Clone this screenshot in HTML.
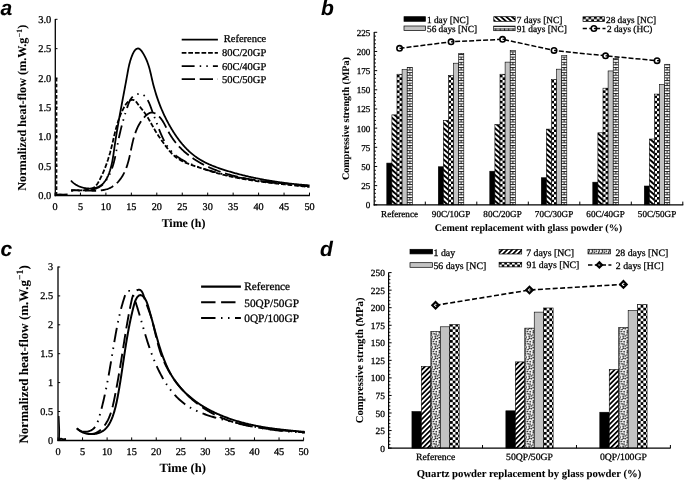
<!DOCTYPE html>
<html><head><meta charset="utf-8"><title>Figure</title>
<style>
html,body{margin:0;padding:0;background:#fff;width:685px;height:482px;overflow:hidden;}
svg{display:block;filter:blur(0.45px);}
text{text-rendering:geometricPrecision;stroke:#000;stroke-width:0.28px;}
text[font-weight="bold"]{stroke-width:0.06px;}
</style></head>
<body>
<svg width="685" height="482" viewBox="0 0 685 482">
<rect width="685" height="482" fill="#fff"/>

<defs>
 <pattern id="hatchB" patternUnits="userSpaceOnUse" width="4.2" height="4.2" patternTransform="rotate(40)">
  <rect width="4.2" height="4.2" fill="#fff"/><rect width="4.2" height="2.2" fill="#000"/>
 </pattern>
 <pattern id="hatchD" patternUnits="userSpaceOnUse" width="3.6" height="3.6" patternTransform="rotate(-50)">
  <rect width="3.6" height="3.6" fill="#fff"/><rect width="3.6" height="1.7" fill="#000"/>
 </pattern>
 <pattern id="checkB" patternUnits="userSpaceOnUse" width="5.3" height="5.3">
  <rect width="5.3" height="5.3" fill="#fff"/><rect width="2.65" height="2.65" fill="#000"/><rect x="2.65" y="2.65" width="2.65" height="2.65" fill="#000"/>
 </pattern>
 <pattern id="checkD" patternUnits="userSpaceOnUse" width="5.4" height="5.4">
  <rect width="5.4" height="5.4" fill="#fff"/><rect width="2.7" height="2.7" fill="#000"/><rect x="2.7" y="2.7" width="2.7" height="2.7" fill="#000"/>
 </pattern>
 <pattern id="brickB" patternUnits="userSpaceOnUse" width="5.6" height="5.2">
  <rect width="5.6" height="5.2" fill="#fff"/>
  <rect y="0" width="5.6" height="0.9" fill="#222"/>
  <rect y="2.6" width="5.6" height="0.9" fill="#222"/>
  <rect x="2.4" y="2.6" width="0.9" height="2.6" fill="#222"/>
 </pattern>
 <pattern id="dotsD" patternUnits="userSpaceOnUse" width="6" height="6">
  <rect width="6" height="6" fill="#fff"/>
  <circle cx="1" cy="1" r="0.9" fill="#111"/>
  <circle cx="4" cy="2" r="0.9" fill="#111"/>
  <circle cx="2" cy="4" r="0.9" fill="#111"/>
  <circle cx="5" cy="5" r="0.8" fill="#111"/>
 </pattern>
 <linearGradient id="grayG" x1="0" x2="1" y1="0" y2="0">
  <stop offset="0" stop-color="#a9a9a9"/><stop offset="0.5" stop-color="#d2d2d2"/><stop offset="1" stop-color="#a9a9a9"/>
 </linearGradient>
</defs>

<text x="0.5" y="15.3" font-family="'Liberation Sans', sans-serif" font-size="21" font-weight="bold" font-style="italic" text-anchor="start" >a</text>
<text x="321" y="15.3" font-family="'Liberation Sans', sans-serif" font-size="21" font-weight="bold" font-style="italic" text-anchor="start" >b</text>
<text x="0.5" y="256" font-family="'Liberation Sans', sans-serif" font-size="21" font-weight="bold" font-style="italic" text-anchor="start" >c</text>
<text x="320" y="255.9" font-family="'Liberation Sans', sans-serif" font-size="21" font-weight="bold" font-style="italic" text-anchor="start" >d</text>
<line x1="55.3" y1="19" x2="55.3" y2="196.3" stroke="#000" stroke-width="1.3" />
<line x1="54.7" y1="195.6" x2="309.8" y2="195.6" stroke="#000" stroke-width="1.5" />
<line x1="55.3" y1="195.4" x2="57.5" y2="195.4" stroke="#000" stroke-width="1" />
<text x="51.3" y="198.9" font-family="'Liberation Serif', serif" font-size="10.5" font-weight="normal" font-style="normal" text-anchor="end" >0.0</text>
<line x1="55.3" y1="166.05" x2="57.5" y2="166.05" stroke="#000" stroke-width="1" />
<text x="51.3" y="169.55" font-family="'Liberation Serif', serif" font-size="10.5" font-weight="normal" font-style="normal" text-anchor="end" >0.5</text>
<line x1="55.3" y1="136.7" x2="57.5" y2="136.7" stroke="#000" stroke-width="1" />
<text x="51.3" y="140.2" font-family="'Liberation Serif', serif" font-size="10.5" font-weight="normal" font-style="normal" text-anchor="end" >1.0</text>
<line x1="55.3" y1="107.35" x2="57.5" y2="107.35" stroke="#000" stroke-width="1" />
<text x="51.3" y="110.85" font-family="'Liberation Serif', serif" font-size="10.5" font-weight="normal" font-style="normal" text-anchor="end" >1.5</text>
<line x1="55.3" y1="78" x2="57.5" y2="78" stroke="#000" stroke-width="1" />
<text x="51.3" y="81.5" font-family="'Liberation Serif', serif" font-size="10.5" font-weight="normal" font-style="normal" text-anchor="end" >2.0</text>
<line x1="55.3" y1="48.65" x2="57.5" y2="48.65" stroke="#000" stroke-width="1" />
<text x="51.3" y="52.15" font-family="'Liberation Serif', serif" font-size="10.5" font-weight="normal" font-style="normal" text-anchor="end" >2.5</text>
<line x1="55.3" y1="19.3" x2="57.5" y2="19.3" stroke="#000" stroke-width="1" />
<text x="51.3" y="22.8" font-family="'Liberation Serif', serif" font-size="10.5" font-weight="normal" font-style="normal" text-anchor="end" >3.0</text>
<line x1="55" y1="195.6" x2="55" y2="192.6" stroke="#000" stroke-width="1" />
<text x="55" y="209.6" font-family="'Liberation Serif', serif" font-size="10.2" font-weight="normal" font-style="normal" text-anchor="middle" >0</text>
<line x1="80.45" y1="195.6" x2="80.45" y2="192.6" stroke="#000" stroke-width="1" />
<text x="80.45" y="209.6" font-family="'Liberation Serif', serif" font-size="10.2" font-weight="normal" font-style="normal" text-anchor="middle" >5</text>
<line x1="105.9" y1="195.6" x2="105.9" y2="192.6" stroke="#000" stroke-width="1" />
<text x="105.9" y="209.6" font-family="'Liberation Serif', serif" font-size="10.2" font-weight="normal" font-style="normal" text-anchor="middle" >10</text>
<line x1="131.35" y1="195.6" x2="131.35" y2="192.6" stroke="#000" stroke-width="1" />
<text x="131.35" y="209.6" font-family="'Liberation Serif', serif" font-size="10.2" font-weight="normal" font-style="normal" text-anchor="middle" >15</text>
<line x1="156.8" y1="195.6" x2="156.8" y2="192.6" stroke="#000" stroke-width="1" />
<text x="156.8" y="209.6" font-family="'Liberation Serif', serif" font-size="10.2" font-weight="normal" font-style="normal" text-anchor="middle" >20</text>
<line x1="182.25" y1="195.6" x2="182.25" y2="192.6" stroke="#000" stroke-width="1" />
<text x="182.25" y="209.6" font-family="'Liberation Serif', serif" font-size="10.2" font-weight="normal" font-style="normal" text-anchor="middle" >25</text>
<line x1="207.7" y1="195.6" x2="207.7" y2="192.6" stroke="#000" stroke-width="1" />
<text x="207.7" y="209.6" font-family="'Liberation Serif', serif" font-size="10.2" font-weight="normal" font-style="normal" text-anchor="middle" >30</text>
<line x1="233.15" y1="195.6" x2="233.15" y2="192.6" stroke="#000" stroke-width="1" />
<text x="233.15" y="209.6" font-family="'Liberation Serif', serif" font-size="10.2" font-weight="normal" font-style="normal" text-anchor="middle" >35</text>
<line x1="258.6" y1="195.6" x2="258.6" y2="192.6" stroke="#000" stroke-width="1" />
<text x="258.6" y="209.6" font-family="'Liberation Serif', serif" font-size="10.2" font-weight="normal" font-style="normal" text-anchor="middle" >40</text>
<line x1="284.05" y1="195.6" x2="284.05" y2="192.6" stroke="#000" stroke-width="1" />
<text x="284.05" y="209.6" font-family="'Liberation Serif', serif" font-size="10.2" font-weight="normal" font-style="normal" text-anchor="middle" >45</text>
<line x1="309.5" y1="195.6" x2="309.5" y2="192.6" stroke="#000" stroke-width="1" />
<text x="309.5" y="209.6" font-family="'Liberation Serif', serif" font-size="10.2" font-weight="normal" font-style="normal" text-anchor="middle" >50</text>
<text x="183.5" y="227.2" font-family="'Liberation Serif', serif" font-size="11.9" font-weight="bold" font-style="normal" text-anchor="middle" >Time (h)</text>
<text transform="translate(26.4,107.75) rotate(-90)" font-family="'Liberation Serif', serif" font-size="12.2" font-weight="bold" text-anchor="middle">Normalized heat-flow (m.W.g<tspan font-size="8.2" dy="-4.7">&#8722;1</tspan><tspan dy="4.7">)</tspan></text>
<line x1="56.7" y1="78" x2="56.7" y2="195" stroke="#000" stroke-width="1.3" stroke-dasharray="3.6,2.1"/>
<path d="M56,195 L60,194.4 L63,194.8 L67.6,194.5" fill="none" stroke="#000" stroke-width="1.9" stroke-linejoin="round" />
<path d="M181.7,39.7 L217.9,39.7" fill="none" stroke="#000" stroke-width="1.8" stroke-linejoin="round" />
<text x="266.3" y="42" font-family="'Liberation Serif', serif" font-size="10.5" font-weight="normal" font-style="normal" text-anchor="end" >Reference</text>
<path d="M181.7,52.8 L217.9,52.8" fill="none" stroke="#000" stroke-width="1.8" stroke-dasharray="4.7,1.9" stroke-linejoin="round" />
<text x="266.3" y="56.3" font-family="'Liberation Serif', serif" font-size="10.5" font-weight="normal" font-style="normal" text-anchor="end" >80C/20GP</text>
<path d="M181.7,66.1 L217.9,66.1" fill="none" stroke="#000" stroke-width="1.8" stroke-dasharray="12.9,5.1,1.5,5.1,1.5,5.1" stroke-linejoin="round" />
<text x="266.3" y="69.7" font-family="'Liberation Serif', serif" font-size="10.5" font-weight="normal" font-style="normal" text-anchor="end" >60C/40GP</text>
<path d="M181.7,79.1 L217.9,79.1" fill="none" stroke="#000" stroke-width="1.8" stroke-dasharray="13.3,4.7" stroke-linejoin="round" />
<text x="266.3" y="83.2" font-family="'Liberation Serif', serif" font-size="10.5" font-weight="normal" font-style="normal" text-anchor="end" >50C/50GP</text>
<path d="M71.02,180.48 L71.48,181.04 L71.97,181.59 L72.49,182.11 L73.05,182.62 L73.63,183.11 L74.24,183.58 L74.87,184.03 L75.52,184.47 L76.2,184.88 L76.9,185.27 L77.61,185.65 L78.35,186 L79.1,186.33 L79.87,186.64 L80.65,186.93 L81.44,187.2 L82.24,187.44 L83.05,187.66 L83.87,187.85 L84.7,188.03 L85.53,188.17 L86.36,188.3 L87.19,188.39 L88.03,188.46 L88.87,188.51 L89.7,188.53 L90.53,188.52 L91.35,188.48 L92.17,188.42 L92.98,188.33 L93.77,188.21 L94.56,188.06 L95.34,187.88 L96.1,187.67 L96.85,187.43 L97.58,187.16 L98.29,186.86 L98.98,186.53 L99.65,186.16 L100.3,185.77 L100.93,185.34 L101.53,184.88 L102.11,184.39 L102.67,183.88 L103.21,183.33 L103.73,182.77 L104.22,182.17 L104.7,181.56 L105.16,180.93 L105.61,180.27 L106.03,179.6 L106.44,178.92 L106.83,178.21 L107.2,177.5 L107.56,176.77 L107.91,176.03 L108.24,175.28 L108.55,174.52 L108.86,173.76 L109.15,172.99 L109.42,172.22 L109.69,171.44 L109.95,170.67 L110.19,169.89 L110.42,169.11 L110.65,168.34 L110.86,167.56 L111.07,166.78 L111.27,166 L111.46,165.22 L111.64,164.44 L111.81,163.66 L111.98,162.88 L112.14,162.1 L112.3,161.32 L112.44,160.54 L112.59,159.76 L112.73,158.98 L112.86,158.2 L112.99,157.42 L113.11,156.63 L113.24,155.85 L113.36,155.07 L113.47,154.28 L113.59,153.5 L113.7,152.71 L113.81,151.93 L113.92,151.14 L114.03,150.36 L114.14,149.57 L114.25,148.79 L114.36,148 L114.47,147.21 L114.58,146.43 L114.7,145.64 L114.81,144.85 L114.93,144.06 L115.04,143.27 L115.16,142.48 L115.28,141.7 L115.4,140.91 L115.52,140.12 L115.64,139.33 L115.77,138.54 L115.89,137.75 L116.02,136.96 L116.14,136.16 L116.27,135.37 L116.4,134.58 L116.53,133.79 L116.65,133 L116.79,132.21 L116.92,131.42 L117.05,130.63 L117.18,129.83 L117.31,129.04 L117.45,128.25 L117.58,127.46 L117.72,126.67 L117.86,125.87 L117.99,125.08 L118.13,124.29 L118.27,123.5 L118.41,122.7 L118.55,121.91 L118.69,121.12 L118.83,120.33 L118.97,119.54 L119.11,118.74 L119.25,117.95 L119.4,117.16 L119.54,116.37 L119.68,115.58 L119.83,114.78 L119.97,113.99 L120.11,113.2 L120.26,112.41 L120.4,111.62 L120.55,110.83 L120.7,110.04 L120.84,109.25 L120.99,108.46 L121.14,107.67 L121.28,106.88 L121.43,106.09 L121.58,105.3 L121.72,104.51 L121.87,103.72 L122.02,102.93 L122.17,102.14 L122.31,101.36 L122.46,100.57 L122.61,99.78 L122.76,99 L122.9,98.21 L123.05,97.42 L123.2,96.64 L123.35,95.85 L123.5,95.07 L123.64,94.28 L123.79,93.5 L123.94,92.71 L124.08,91.93 L124.23,91.15 L124.38,90.37 L124.52,89.59 L124.67,88.8 L124.82,88.02 L124.96,87.24 L125.11,86.46 L125.25,85.68 L125.4,84.91 L125.54,84.13 L125.69,83.35 L125.83,82.57 L125.97,81.8 L126.11,81.02 L126.26,80.25 L126.4,79.47 L126.54,78.7 L126.68,77.93 L126.82,77.15 L126.96,76.38 L127.1,75.61 L127.24,74.84 L127.38,74.07 L127.51,73.3 L127.65,72.53 L127.79,71.77 L127.93,71 L128.07,70.23 L128.22,69.46 L128.37,68.68 L128.53,67.91 L128.69,67.13 L128.85,66.36 L129.03,65.58 L129.21,64.79 L129.4,64 L129.61,63.21 L129.82,62.42 L130.04,61.62 L130.27,60.81 L130.52,60 L130.78,59.19 L131.06,58.37 L131.35,57.54 L131.65,56.7 L131.97,55.86 L132.31,55.02 L132.67,54.19 L133.05,53.37 L133.44,52.58 L133.86,51.83 L134.3,51.13 L134.76,50.49 L135.25,49.92 L135.76,49.43 L136.28,49.03 L136.82,48.73 L137.36,48.54 L137.9,48.46 L138.43,48.51 L138.96,48.67 L139.48,48.94 L139.99,49.3 L140.49,49.75 L140.98,50.27 L141.47,50.85 L141.94,51.49 L142.4,52.18 L142.85,52.9 L143.29,53.64 L143.72,54.41 L144.14,55.17 L144.54,55.94 L144.93,56.69 L145.3,57.45 L145.67,58.2 L146.02,58.95 L146.36,59.7 L146.68,60.45 L147,61.2 L147.3,61.95 L147.59,62.7 L147.87,63.46 L148.13,64.22 L148.39,64.98 L148.64,65.74 L148.88,66.51 L149.11,67.28 L149.33,68.05 L149.54,68.83 L149.75,69.61 L149.95,70.38 L150.15,71.16 L150.34,71.94 L150.52,72.73 L150.71,73.51 L150.89,74.29 L151.07,75.07 L151.25,75.86 L151.42,76.64 L151.6,77.42 L151.78,78.21 L151.95,78.99 L152.13,79.77 L152.31,80.55 L152.5,81.33 L152.68,82.11 L152.87,82.88 L153.07,83.66 L153.26,84.43 L153.46,85.21 L153.67,85.98 L153.87,86.75 L154.08,87.52 L154.29,88.28 L154.51,89.05 L154.73,89.81 L154.95,90.58 L155.17,91.34 L155.4,92.1 L155.63,92.86 L155.87,93.62 L156.11,94.38 L156.35,95.13 L156.59,95.89 L156.84,96.64 L157.09,97.39 L157.35,98.14 L157.61,98.89 L157.87,99.64 L158.13,100.39 L158.4,101.13 L158.67,101.88 L158.95,102.62 L159.23,103.36 L159.51,104.1 L159.79,104.84 L160.08,105.58 L160.38,106.32 L160.67,107.05 L160.97,107.79 L161.28,108.52 L161.58,109.25 L161.89,109.98 L162.21,110.71 L162.53,111.44 L162.85,112.16 L163.17,112.89 L163.5,113.61 L163.84,114.33 L164.17,115.05 L164.51,115.77 L164.86,116.49 L165.21,117.21 L165.56,117.92 L165.91,118.64 L166.27,119.35 L166.64,120.06 L167,120.77 L167.37,121.48 L167.75,122.19 L168.13,122.9 L168.51,123.6 L168.9,124.31 L169.29,125.01 L169.68,125.71 L170.08,126.41 L170.49,127.11 L170.89,127.81 L171.3,128.5 L171.72,129.2 L172.14,129.89 L172.56,130.58 L172.99,131.27 L173.42,131.95 L173.86,132.63 L174.3,133.31 L174.74,133.99 L175.19,134.67 L175.64,135.34 L176.1,136.01 L176.56,136.67 L177.03,137.33 L177.5,137.99 L177.98,138.64 L178.46,139.3 L178.94,139.94 L179.43,140.58 L179.93,141.22 L180.43,141.86 L180.93,142.49 L181.44,143.11 L181.96,143.73 L182.47,144.35 L183,144.96 L183.53,145.56 L184.06,146.16 L184.6,146.75 L185.14,147.34 L185.69,147.93 L186.24,148.5 L186.8,149.07 L187.36,149.64 L187.93,150.2 L188.51,150.75 L189.08,151.29 L189.67,151.83 L190.26,152.37 L190.85,152.89 L191.45,153.41 L192.06,153.92 L192.67,154.42 L193.29,154.92 L193.91,155.41 L194.54,155.89 L195.17,156.36 L195.81,156.82 L196.45,157.28 L197.1,157.73 L197.76,158.17 L198.42,158.6 L199.08,159.02 L199.76,159.44 L200.43,159.85 L201.11,160.25 L201.8,160.64 L202.49,161.03 L203.18,161.41 L203.88,161.78 L204.59,162.15 L205.29,162.51 L206.01,162.86 L206.72,163.21 L207.44,163.55 L208.16,163.89 L208.89,164.22 L209.62,164.54 L210.35,164.86 L211.08,165.17 L211.82,165.48 L212.56,165.78 L213.31,166.08 L214.05,166.37 L214.8,166.66 L215.55,166.95 L216.3,167.23 L217.06,167.5 L217.82,167.78 L218.57,168.04 L219.33,168.31 L220.09,168.57 L220.86,168.83 L221.62,169.08 L222.39,169.34 L223.15,169.59 L223.92,169.83 L224.68,170.08 L225.45,170.32 L226.22,170.56 L226.99,170.8 L227.76,171.03 L228.52,171.26 L229.29,171.5 L230.06,171.72 L230.83,171.95 L231.6,172.17 L232.38,172.4 L233.15,172.62 L233.92,172.83 L234.69,173.05 L235.46,173.26 L236.24,173.47 L237.01,173.68 L237.78,173.89 L238.56,174.1 L239.33,174.3 L240.11,174.5 L240.88,174.7 L241.66,174.9 L242.43,175.09 L243.21,175.28 L243.99,175.47 L244.76,175.66 L245.54,175.85 L246.32,176.04 L247.1,176.22 L247.87,176.4 L248.65,176.58 L249.43,176.76 L250.21,176.93 L250.99,177.11 L251.77,177.28 L252.55,177.45 L253.33,177.62 L254.11,177.78 L254.89,177.95 L255.68,178.11 L256.46,178.27 L257.24,178.43 L258.02,178.58 L258.81,178.74 L259.59,178.89 L260.37,179.04 L261.16,179.19 L261.94,179.34 L262.73,179.49 L263.51,179.63 L264.3,179.78 L265.08,179.92 L265.87,180.06 L266.65,180.2 L267.44,180.33 L268.23,180.47 L269.01,180.6 L269.8,180.73 L270.59,180.86 L271.38,180.99 L272.17,181.11 L272.95,181.24 L273.74,181.36 L274.53,181.48 L275.32,181.61 L276.11,181.72 L276.9,181.84 L277.69,181.96 L278.48,182.07 L279.27,182.18 L280.06,182.29 L280.86,182.4 L281.65,182.51 L282.44,182.62 L283.23,182.72 L284.02,182.83 L284.82,182.93 L285.61,183.03 L286.4,183.13 L287.2,183.23 L287.99,183.33 L288.78,183.42 L289.58,183.52 L290.37,183.61 L291.17,183.7 L291.96,183.79 L292.76,183.88 L293.55,183.97 L294.35,184.05 L295.15,184.14 L295.94,184.22 L296.74,184.3 L297.53,184.39 L298.33,184.47 L299.13,184.54 L299.93,184.62 L300.72,184.7 L301.52,184.77 L302.32,184.85 L303.12,184.92 L303.92,184.99 L304.71,185.06 L305.51,185.13 L306.31,185.2 L307.11,185.27 L307.91,185.33 L308.71,185.4 L309.51,185.46" fill="none" stroke="#000" stroke-width="1.8" stroke-linejoin="round" />
<path d="M71.04,190.3 L71.71,190.26 L72.41,190.23 L73.14,190.21 L73.89,190.2 L74.66,190.2 L75.45,190.21 L76.26,190.22 L77.07,190.24 L77.91,190.25 L78.75,190.27 L79.6,190.28 L80.45,190.28 L81.31,190.28 L82.17,190.26 L83.03,190.24 L83.89,190.2 L84.74,190.14 L85.59,190.07 L86.42,189.97 L87.25,189.86 L88.06,189.72 L88.86,189.55 L89.64,189.36 L90.4,189.13 L91.14,188.88 L91.86,188.58 L92.55,188.26 L93.21,187.89 L93.85,187.48 L94.45,187.03 L95.02,186.54 L95.56,186.01 L96.08,185.45 L96.57,184.86 L97.04,184.24 L97.49,183.6 L97.92,182.93 L98.33,182.25 L98.73,181.55 L99.12,180.84 L99.51,180.12 L99.88,179.4 L100.25,178.68 L100.61,177.95 L100.97,177.22 L101.32,176.49 L101.67,175.76 L102.01,175.03 L102.35,174.3 L102.68,173.56 L103.01,172.82 L103.33,172.08 L103.65,171.34 L103.96,170.6 L104.27,169.85 L104.57,169.11 L104.87,168.36 L105.16,167.61 L105.45,166.86 L105.73,166.11 L106.01,165.36 L106.29,164.61 L106.56,163.85 L106.83,163.09 L107.09,162.34 L107.35,161.58 L107.6,160.82 L107.86,160.06 L108.1,159.3 L108.34,158.54 L108.58,157.77 L108.82,157.01 L109.05,156.24 L109.27,155.48 L109.5,154.71 L109.72,153.94 L109.93,153.18 L110.15,152.41 L110.35,151.64 L110.56,150.87 L110.76,150.1 L110.96,149.33 L111.16,148.56 L111.35,147.79 L111.54,147.01 L111.73,146.24 L111.92,145.47 L112.1,144.69 L112.28,143.92 L112.47,143.15 L112.65,142.37 L112.83,141.6 L113.01,140.83 L113.19,140.05 L113.36,139.28 L113.54,138.51 L113.72,137.73 L113.91,136.96 L114.09,136.18 L114.27,135.41 L114.45,134.64 L114.64,133.87 L114.83,133.09 L115.02,132.32 L115.21,131.55 L115.4,130.78 L115.6,130.01 L115.8,129.24 L116.01,128.47 L116.21,127.7 L116.43,126.93 L116.64,126.16 L116.86,125.4 L117.08,124.63 L117.31,123.87 L117.55,123.1 L117.79,122.34 L118.03,121.57 L118.28,120.81 L118.54,120.05 L118.8,119.29 L119.07,118.53 L119.35,117.78 L119.63,117.02 L119.92,116.26 L120.21,115.51 L120.52,114.76 L120.83,114.01 L121.15,113.26 L121.48,112.51 L121.82,111.76 L122.17,111.02 L122.52,110.27 L122.89,109.53 L123.26,108.79 L123.65,108.05 L124.04,107.31 L124.45,106.58 L124.87,105.86 L125.3,105.15 L125.75,104.47 L126.22,103.81 L126.72,103.19 L127.23,102.6 L127.77,102.05 L128.34,101.55 L128.93,101.1 L129.55,100.71 L130.21,100.39 L130.9,100.13 L131.63,99.95 L132.36,99.85 L133.09,99.87 L133.79,100.01 L134.43,100.28 L135.03,100.68 L135.58,101.17 L136.11,101.74 L136.61,102.37 L137.1,103.03 L137.59,103.71 L138.08,104.37 L138.58,105.03 L139.08,105.68 L139.58,106.33 L140.09,106.97 L140.59,107.61 L141.1,108.24 L141.6,108.87 L142.1,109.5 L142.6,110.13 L143.09,110.76 L143.58,111.4 L144.06,112.03 L144.54,112.67 L145,113.31 L145.46,113.96 L145.91,114.61 L146.35,115.27 L146.78,115.94 L147.2,116.61 L147.61,117.29 L148.02,117.97 L148.43,118.65 L148.83,119.34 L149.22,120.03 L149.62,120.72 L150.01,121.42 L150.4,122.11 L150.79,122.81 L151.18,123.51 L151.57,124.21 L151.96,124.91 L152.35,125.61 L152.74,126.31 L153.14,127.01 L153.53,127.71 L153.93,128.41 L154.33,129.1 L154.73,129.79 L155.13,130.48 L155.54,131.17 L155.95,131.85 L156.37,132.53 L156.79,133.21 L157.22,133.88 L157.65,134.55 L158.08,135.22 L158.52,135.88 L158.96,136.54 L159.41,137.2 L159.86,137.86 L160.31,138.52 L160.76,139.17 L161.22,139.83 L161.68,140.48 L162.14,141.13 L162.61,141.78 L163.08,142.43 L163.54,143.08 L164.02,143.74 L164.49,144.39 L164.96,145.04 L165.44,145.69 L165.92,146.35 L166.4,147 L166.88,147.64 L167.37,148.29 L167.87,148.92 L168.37,149.56 L168.87,150.19 L169.38,150.81 L169.9,151.42 L170.43,152.02 L170.96,152.62 L171.5,153.2 L172.06,153.78 L172.62,154.34 L173.19,154.89 L173.77,155.42 L174.36,155.94 L174.96,156.45 L175.57,156.94 L176.2,157.42 L176.83,157.88 L177.48,158.33 L178.14,158.76 L178.8,159.18 L179.47,159.59 L180.16,159.99 L180.85,160.37 L181.55,160.75 L182.25,161.11 L182.96,161.47 L183.68,161.81 L184.41,162.15 L185.14,162.48 L185.88,162.8 L186.62,163.11 L187.36,163.41 L188.11,163.71 L188.87,164 L189.63,164.29 L190.39,164.57 L191.15,164.85 L191.91,165.12 L192.68,165.39 L193.45,165.65 L194.22,165.91 L194.98,166.17 L195.75,166.43 L196.52,166.69 L197.29,166.95 L198.06,167.2 L198.83,167.46 L199.59,167.71 L200.36,167.96 L201.12,168.21 L201.89,168.46 L202.65,168.71 L203.42,168.96 L204.18,169.2 L204.95,169.44 L205.71,169.69 L206.48,169.93 L207.24,170.17 L208,170.41 L208.77,170.64 L209.53,170.88 L210.29,171.11 L211.06,171.34 L211.82,171.57 L212.58,171.8 L213.35,172.02 L214.11,172.25 L214.88,172.47 L215.64,172.69 L216.41,172.91 L217.17,173.12 L217.94,173.33 L218.71,173.55 L219.47,173.75 L220.24,173.96 L221.01,174.17 L221.78,174.37 L222.55,174.57 L223.32,174.76 L224.09,174.96 L224.86,175.15 L225.63,175.34 L226.4,175.53 L227.18,175.71 L227.95,175.9 L228.72,176.08 L229.5,176.25 L230.28,176.43 L231.05,176.6 L231.83,176.77 L232.61,176.94 L233.39,177.1 L234.17,177.27 L234.95,177.43 L235.73,177.59 L236.51,177.74 L237.29,177.9 L238.08,178.05 L238.86,178.2 L239.65,178.35 L240.43,178.49 L241.22,178.64 L242,178.78 L242.79,178.92 L243.57,179.06 L244.36,179.2 L245.15,179.33 L245.94,179.47 L246.73,179.6 L247.52,179.73 L248.3,179.85 L249.09,179.98 L249.89,180.1 L250.68,180.23 L251.47,180.35 L252.26,180.47 L253.05,180.59 L253.84,180.7 L254.64,180.82 L255.43,180.93 L256.22,181.05 L257.02,181.16 L257.81,181.27 L258.6,181.38 L259.4,181.48 L260.19,181.59 L260.99,181.69 L261.78,181.8 L262.58,181.9 L263.38,182 L264.17,182.1 L264.97,182.2 L265.76,182.3 L266.56,182.4 L267.36,182.49 L268.15,182.59 L268.95,182.68 L269.75,182.78 L270.55,182.87 L271.34,182.96 L272.14,183.05 L272.94,183.14 L273.73,183.23 L274.53,183.32 L275.33,183.41 L276.13,183.5 L276.92,183.58 L277.72,183.67 L278.52,183.76 L279.32,183.84 L280.11,183.93 L280.91,184.01 L281.71,184.09 L282.51,184.18 L283.3,184.26 L284.1,184.34 L284.9,184.43 L285.69,184.51 L286.49,184.59 L287.29,184.67 L288.08,184.76 L288.88,184.84 L289.68,184.92 L290.47,185 L291.27,185.08 L292.06,185.16 L292.86,185.25 L293.65,185.33 L294.45,185.41 L295.24,185.49 L296.04,185.57 L296.83,185.65 L297.62,185.74 L298.42,185.82 L299.21,185.9 L300,185.99 L300.8,186.07 L301.59,186.15 L302.38,186.24 L303.17,186.32 L303.96,186.41 L304.75,186.49 L305.54,186.58 L306.33,186.66 L307.12,186.75 L307.91,186.84 L308.7,186.93 L309.48,187.02" fill="none" stroke="#000" stroke-width="1.8" stroke-dasharray="4.7,1.9" stroke-linejoin="round" />
<path d="M71.01,190.57 L71.72,190.56 L72.45,190.55 L73.19,190.55 L73.95,190.55 L74.72,190.55 L75.5,190.55 L76.28,190.56 L77.08,190.56 L77.89,190.57 L78.7,190.57 L79.52,190.57 L80.34,190.57 L81.17,190.56 L82,190.55 L82.84,190.53 L83.68,190.5 L84.51,190.47 L85.35,190.42 L86.19,190.37 L87.02,190.3 L87.86,190.22 L88.68,190.13 L89.51,190.03 L90.32,189.91 L91.14,189.77 L91.94,189.62 L92.73,189.45 L93.52,189.26 L94.3,189.05 L95.06,188.82 L95.81,188.57 L96.55,188.3 L97.28,188.01 L97.99,187.69 L98.69,187.34 L99.36,186.97 L100.03,186.57 L100.67,186.15 L101.29,185.69 L101.9,185.21 L102.48,184.7 L103.05,184.16 L103.6,183.61 L104.13,183.03 L104.64,182.42 L105.14,181.81 L105.62,181.17 L106.08,180.52 L106.53,179.85 L106.97,179.18 L107.39,178.49 L107.8,177.8 L108.2,177.09 L108.58,176.39 L108.95,175.68 L109.31,174.96 L109.66,174.24 L109.99,173.51 L110.32,172.78 L110.63,172.04 L110.94,171.3 L111.23,170.56 L111.52,169.81 L111.79,169.06 L112.06,168.31 L112.32,167.55 L112.57,166.79 L112.81,166.03 L113.04,165.26 L113.27,164.49 L113.49,163.72 L113.7,162.94 L113.91,162.17 L114.11,161.39 L114.31,160.61 L114.49,159.82 L114.68,159.04 L114.86,158.25 L115.03,157.47 L115.2,156.68 L115.37,155.89 L115.54,155.1 L115.7,154.31 L115.85,153.52 L116.01,152.73 L116.16,151.93 L116.31,151.14 L116.46,150.35 L116.61,149.56 L116.76,148.77 L116.91,147.98 L117.05,147.19 L117.2,146.4 L117.35,145.61 L117.5,144.83 L117.64,144.04 L117.79,143.26 L117.95,142.48 L118.1,141.7 L118.26,140.92 L118.41,140.14 L118.57,139.36 L118.73,138.59 L118.9,137.82 L119.06,137.05 L119.23,136.27 L119.4,135.5 L119.57,134.74 L119.74,133.97 L119.92,133.2 L120.1,132.43 L120.28,131.67 L120.46,130.9 L120.65,130.14 L120.83,129.37 L121.02,128.61 L121.21,127.84 L121.41,127.08 L121.6,126.31 L121.8,125.55 L122.01,124.78 L122.21,124.02 L122.42,123.25 L122.63,122.48 L122.84,121.72 L123.05,120.95 L123.27,120.18 L123.49,119.41 L123.71,118.64 L123.94,117.87 L124.17,117.09 L124.4,116.32 L124.63,115.54 L124.87,114.77 L125.11,113.99 L125.35,113.21 L125.59,112.43 L125.84,111.64 L126.1,110.86 L126.35,110.07 L126.61,109.28 L126.87,108.49 L127.13,107.7 L127.4,106.9 L127.67,106.1 L127.95,105.3 L128.23,104.51 L128.53,103.72 L128.84,102.95 L129.16,102.18 L129.5,101.43 L129.86,100.7 L130.24,99.99 L130.65,99.31 L131.09,98.65 L131.55,98.02 L132.05,97.43 L132.57,96.87 L133.14,96.35 L133.74,95.87 L134.39,95.44 L135.06,95.05 L135.77,94.72 L136.49,94.43 L137.23,94.21 L137.97,94.03 L138.71,93.92 L139.44,93.88 L140.15,93.89 L140.85,93.98 L141.51,94.13 L142.15,94.35 L142.77,94.63 L143.36,94.96 L143.92,95.36 L144.47,95.8 L144.99,96.29 L145.49,96.83 L145.97,97.41 L146.43,98.03 L146.88,98.69 L147.3,99.38 L147.72,100.1 L148.11,100.84 L148.49,101.61 L148.86,102.39 L149.22,103.2 L149.56,104.01 L149.9,104.84 L150.22,105.67 L150.54,106.51 L150.85,107.34 L151.15,108.17 L151.44,109 L151.73,109.82 L152.02,110.62 L152.3,111.41 L152.58,112.18 L152.86,112.94 L153.14,113.69 L153.41,114.43 L153.68,115.15 L153.96,115.87 L154.22,116.58 L154.49,117.29 L154.76,117.99 L155.03,118.69 L155.3,119.39 L155.56,120.09 L155.83,120.79 L156.1,121.5 L156.37,122.21 L156.64,122.92 L156.92,123.64 L157.19,124.37 L157.47,125.11 L157.74,125.84 L158.03,126.59 L158.31,127.33 L158.6,128.09 L158.89,128.84 L159.18,129.6 L159.48,130.35 L159.78,131.11 L160.09,131.87 L160.4,132.64 L160.71,133.4 L161.03,134.16 L161.36,134.92 L161.69,135.68 L162.03,136.43 L162.37,137.18 L162.72,137.93 L163.08,138.68 L163.44,139.42 L163.81,140.16 L164.19,140.89 L164.58,141.62 L164.97,142.34 L165.37,143.05 L165.78,143.76 L166.2,144.45 L166.63,145.14 L167.07,145.82 L167.51,146.49 L167.97,147.16 L168.43,147.81 L168.91,148.45 L169.39,149.07 L169.89,149.69 L170.4,150.29 L170.92,150.88 L171.45,151.46 L171.99,152.03 L172.54,152.58 L173.1,153.13 L173.67,153.66 L174.25,154.17 L174.84,154.68 L175.44,155.18 L176.04,155.67 L176.66,156.14 L177.28,156.61 L177.91,157.07 L178.55,157.51 L179.2,157.95 L179.85,158.38 L180.52,158.8 L181.18,159.21 L181.86,159.61 L182.54,160 L183.23,160.39 L183.92,160.76 L184.62,161.13 L185.32,161.5 L186.03,161.85 L186.74,162.2 L187.46,162.54 L188.18,162.88 L188.91,163.21 L189.63,163.53 L190.37,163.85 L191.1,164.16 L191.84,164.47 L192.59,164.77 L193.33,165.07 L194.08,165.37 L194.83,165.66 L195.58,165.94 L196.33,166.22 L197.08,166.5 L197.84,166.78 L198.59,167.05 L199.35,167.32 L200.11,167.58 L200.87,167.84 L201.63,168.1 L202.39,168.35 L203.15,168.61 L203.92,168.85 L204.68,169.1 L205.45,169.34 L206.22,169.58 L206.99,169.82 L207.75,170.05 L208.52,170.28 L209.29,170.51 L210.07,170.73 L210.84,170.96 L211.61,171.18 L212.39,171.39 L213.16,171.61 L213.94,171.82 L214.71,172.03 L215.49,172.24 L216.26,172.44 L217.04,172.64 L217.82,172.84 L218.6,173.04 L219.38,173.23 L220.16,173.43 L220.94,173.62 L221.72,173.81 L222.5,173.99 L223.28,174.18 L224.06,174.36 L224.84,174.54 L225.62,174.72 L226.41,174.9 L227.19,175.08 L227.97,175.25 L228.75,175.42 L229.54,175.59 L230.32,175.76 L231.1,175.93 L231.89,176.09 L232.67,176.26 L233.45,176.42 L234.24,176.58 L235.02,176.74 L235.8,176.89 L236.59,177.05 L237.37,177.2 L238.16,177.36 L238.94,177.51 L239.73,177.66 L240.51,177.8 L241.3,177.95 L242.09,178.09 L242.87,178.24 L243.66,178.38 L244.45,178.52 L245.23,178.66 L246.02,178.79 L246.81,178.93 L247.59,179.06 L248.38,179.2 L249.17,179.33 L249.96,179.46 L250.74,179.59 L251.53,179.71 L252.32,179.84 L253.11,179.96 L253.9,180.09 L254.69,180.21 L255.48,180.33 L256.26,180.45 L257.05,180.57 L257.84,180.69 L258.63,180.8 L259.42,180.92 L260.21,181.03 L261,181.14 L261.79,181.25 L262.58,181.36 L263.38,181.47 L264.17,181.58 L264.96,181.69 L265.75,181.79 L266.54,181.9 L267.33,182 L268.12,182.1 L268.92,182.2 L269.71,182.31 L270.5,182.4 L271.29,182.5 L272.08,182.6 L272.88,182.7 L273.67,182.79 L274.46,182.89 L275.26,182.98 L276.05,183.08 L276.84,183.17 L277.64,183.26 L278.43,183.35 L279.23,183.44 L280.02,183.53 L280.81,183.62 L281.61,183.7 L282.4,183.79 L283.2,183.88 L283.99,183.96 L284.79,184.04 L285.58,184.13 L286.38,184.21 L287.18,184.29 L287.97,184.37 L288.77,184.46 L289.56,184.54 L290.36,184.62 L291.16,184.69 L291.95,184.77 L292.75,184.85 L293.55,184.93 L294.34,185 L295.14,185.08 L295.94,185.16 L296.73,185.23 L297.53,185.31 L298.33,185.38 L299.13,185.45 L299.93,185.53 L300.72,185.6 L301.52,185.67 L302.32,185.75 L303.12,185.82 L303.92,185.89 L304.72,185.96 L305.52,186.03 L306.31,186.1 L307.11,186.17 L307.91,186.24 L308.71,186.31 L309.51,186.38" fill="none" stroke="#000" stroke-width="1.8" stroke-dasharray="12.9,5.1,1.5,5.1,1.5,5.1" stroke-linejoin="round" stroke-dashoffset="10.72"/>
<path d="M71.38,190.63 L72.07,190.54 L72.78,190.47 L73.5,190.4 L74.23,190.35 L74.97,190.31 L75.72,190.28 L76.48,190.26 L77.25,190.25 L78.03,190.25 L78.82,190.26 L79.61,190.27 L80.41,190.29 L81.21,190.31 L82.03,190.34 L82.84,190.38 L83.67,190.41 L84.49,190.45 L85.32,190.49 L86.16,190.53 L86.99,190.56 L87.83,190.6 L88.67,190.64 L89.51,190.67 L90.36,190.7 L91.2,190.72 L92.04,190.74 L92.88,190.75 L93.72,190.76 L94.56,190.76 L95.4,190.75 L96.24,190.73 L97.07,190.7 L97.89,190.66 L98.72,190.61 L99.54,190.54 L100.35,190.46 L101.16,190.37 L101.96,190.26 L102.75,190.14 L103.54,190 L104.32,189.85 L105.09,189.67 L105.85,189.48 L106.61,189.26 L107.35,189.03 L108.08,188.78 L108.81,188.5 L109.52,188.2 L110.22,187.87 L110.9,187.52 L111.58,187.15 L112.24,186.76 L112.89,186.34 L113.53,185.91 L114.16,185.45 L114.77,184.97 L115.37,184.48 L115.96,183.96 L116.54,183.43 L117.1,182.88 L117.65,182.32 L118.19,181.74 L118.71,181.15 L119.23,180.54 L119.73,179.92 L120.21,179.29 L120.69,178.64 L121.15,177.99 L121.59,177.33 L122.03,176.65 L122.45,175.97 L122.86,175.28 L123.25,174.59 L123.63,173.89 L124,173.18 L124.36,172.47 L124.7,171.75 L125.03,171.03 L125.35,170.3 L125.65,169.57 L125.95,168.83 L126.23,168.1 L126.51,167.35 L126.77,166.61 L127.03,165.86 L127.28,165.1 L127.52,164.34 L127.75,163.58 L127.97,162.82 L128.19,162.06 L128.4,161.29 L128.6,160.52 L128.8,159.74 L128.99,158.97 L129.18,158.19 L129.36,157.41 L129.54,156.63 L129.72,155.85 L129.89,155.06 L130.06,154.27 L130.23,153.49 L130.39,152.7 L130.56,151.91 L130.72,151.12 L130.89,150.33 L131.05,149.54 L131.21,148.75 L131.38,147.96 L131.54,147.17 L131.71,146.38 L131.88,145.59 L132.06,144.8 L132.23,144.01 L132.41,143.22 L132.59,142.43 L132.78,141.64 L132.97,140.86 L133.17,140.07 L133.38,139.29 L133.59,138.51 L133.8,137.73 L134.03,136.96 L134.26,136.18 L134.49,135.41 L134.74,134.64 L135,133.88 L135.26,133.11 L135.53,132.35 L135.81,131.6 L136.1,130.85 L136.4,130.1 L136.71,129.36 L137.04,128.62 L137.37,127.89 L137.71,127.16 L138.07,126.44 L138.43,125.73 L138.81,125.02 L139.21,124.32 L139.61,123.62 L140.03,122.93 L140.46,122.25 L140.91,121.57 L141.37,120.91 L141.84,120.25 L142.33,119.6 L142.83,118.95 L143.35,118.32 L143.89,117.69 L144.44,117.08 L145.01,116.47 L145.59,115.89 L146.19,115.33 L146.8,114.8 L147.42,114.32 L148.06,113.88 L148.7,113.49 L149.36,113.15 L150.02,112.89 L150.69,112.7 L151.37,112.58 L152.06,112.55 L152.75,112.61 L153.44,112.76 L154.13,112.99 L154.81,113.29 L155.48,113.64 L156.14,114.04 L156.78,114.48 L157.4,114.95 L157.99,115.45 L158.57,115.96 L159.12,116.51 L159.65,117.07 L160.17,117.65 L160.66,118.26 L161.15,118.88 L161.61,119.51 L162.07,120.17 L162.51,120.84 L162.94,121.52 L163.36,122.21 L163.78,122.91 L164.18,123.63 L164.58,124.35 L164.97,125.07 L165.36,125.81 L165.74,126.55 L166.12,127.29 L166.51,128.03 L166.89,128.77 L167.27,129.52 L167.66,130.26 L168.05,131 L168.44,131.73 L168.84,132.46 L169.25,133.18 L169.66,133.89 L170.08,134.6 L170.51,135.3 L170.95,136 L171.39,136.68 L171.84,137.36 L172.29,138.04 L172.76,138.71 L173.23,139.37 L173.7,140.02 L174.18,140.67 L174.67,141.31 L175.17,141.94 L175.67,142.57 L176.18,143.19 L176.69,143.8 L177.21,144.41 L177.73,145.01 L178.26,145.61 L178.8,146.2 L179.34,146.78 L179.89,147.35 L180.45,147.92 L181.01,148.49 L181.57,149.05 L182.14,149.6 L182.72,150.14 L183.3,150.68 L183.88,151.22 L184.48,151.74 L185.07,152.27 L185.67,152.78 L186.28,153.29 L186.89,153.8 L187.51,154.29 L188.13,154.79 L188.75,155.27 L189.38,155.75 L190.01,156.23 L190.65,156.7 L191.29,157.16 L191.94,157.62 L192.59,158.08 L193.25,158.52 L193.91,158.97 L194.57,159.4 L195.24,159.83 L195.91,160.26 L196.58,160.68 L197.26,161.1 L197.94,161.51 L198.62,161.91 L199.31,162.31 L200,162.71 L200.7,163.1 L201.4,163.48 L202.1,163.86 L202.8,164.23 L203.51,164.6 L204.22,164.97 L204.93,165.33 L205.65,165.68 L206.37,166.03 L207.09,166.38 L207.81,166.72 L208.54,167.05 L209.27,167.39 L210,167.71 L210.73,168.03 L211.47,168.35 L212.21,168.66 L212.94,168.97 L213.69,169.27 L214.43,169.57 L215.18,169.87 L215.92,170.16 L216.67,170.45 L217.42,170.73 L218.17,171 L218.93,171.28 L219.68,171.55 L220.44,171.81 L221.19,172.07 L221.95,172.33 L222.71,172.58 L223.47,172.83 L224.24,173.07 L225,173.31 L225.76,173.55 L226.53,173.78 L227.29,174.01 L228.06,174.24 L228.83,174.46 L229.6,174.68 L230.37,174.89 L231.14,175.1 L231.91,175.31 L232.68,175.51 L233.45,175.71 L234.23,175.91 L235,176.1 L235.78,176.29 L236.55,176.48 L237.33,176.66 L238.11,176.84 L238.89,177.02 L239.67,177.2 L240.45,177.37 L241.23,177.54 L242.01,177.7 L242.79,177.86 L243.58,178.02 L244.36,178.18 L245.15,178.33 L245.93,178.49 L246.72,178.63 L247.5,178.78 L248.29,178.92 L249.08,179.07 L249.87,179.2 L250.66,179.34 L251.44,179.48 L252.23,179.61 L253.02,179.74 L253.81,179.86 L254.61,179.99 L255.4,180.11 L256.19,180.23 L256.98,180.35 L257.78,180.47 L258.57,180.58 L259.36,180.7 L260.16,180.81 L260.95,180.92 L261.75,181.02 L262.54,181.13 L263.34,181.23 L264.13,181.34 L264.93,181.44 L265.72,181.54 L266.52,181.63 L267.32,181.73 L268.11,181.82 L268.91,181.92 L269.71,182.01 L270.51,182.1 L271.3,182.19 L272.1,182.28 L272.9,182.37 L273.7,182.45 L274.49,182.54 L275.29,182.62 L276.09,182.71 L276.89,182.79 L277.69,182.87 L278.49,182.95 L279.28,183.03 L280.08,183.11 L280.88,183.19 L281.68,183.27 L282.48,183.35 L283.28,183.43 L284.07,183.5 L284.87,183.58 L285.67,183.66 L286.47,183.73 L287.27,183.81 L288.06,183.88 L288.86,183.96 L289.66,184.03 L290.45,184.11 L291.25,184.18 L292.05,184.26 L292.84,184.33 L293.64,184.4 L294.44,184.48 L295.23,184.55 L296.03,184.63 L296.82,184.71 L297.62,184.78 L298.41,184.86 L299.2,184.93 L300,185.01 L300.79,185.09 L301.58,185.17 L302.38,185.25 L303.17,185.33 L303.96,185.41 L304.75,185.49 L305.54,185.57 L306.33,185.65 L307.12,185.73 L307.91,185.82 L308.7,185.9 L309.48,185.99" fill="none" stroke="#000" stroke-width="1.8" stroke-dasharray="13.3,4.7" stroke-linejoin="round" stroke-dashoffset="6.53"/>
<line x1="58" y1="266.6" x2="58" y2="441.1" stroke="#000" stroke-width="1.3" />
<line x1="57.4" y1="440.4" x2="303.8" y2="440.4" stroke="#000" stroke-width="1.5" />
<line x1="58" y1="440.4" x2="60.2" y2="440.4" stroke="#000" stroke-width="1" />
<text x="53.1" y="443.8" font-family="'Liberation Serif', serif" font-size="10.3" font-weight="normal" font-style="normal" text-anchor="end" >0</text>
<line x1="58" y1="411.5" x2="60.2" y2="411.5" stroke="#000" stroke-width="1" />
<text x="53.1" y="414.9" font-family="'Liberation Serif', serif" font-size="10.3" font-weight="normal" font-style="normal" text-anchor="end" >0.5</text>
<line x1="58" y1="382.6" x2="60.2" y2="382.6" stroke="#000" stroke-width="1" />
<text x="53.1" y="386" font-family="'Liberation Serif', serif" font-size="10.3" font-weight="normal" font-style="normal" text-anchor="end" >1</text>
<line x1="58" y1="353.7" x2="60.2" y2="353.7" stroke="#000" stroke-width="1" />
<text x="53.1" y="357.1" font-family="'Liberation Serif', serif" font-size="10.3" font-weight="normal" font-style="normal" text-anchor="end" >1.5</text>
<line x1="58" y1="324.8" x2="60.2" y2="324.8" stroke="#000" stroke-width="1" />
<text x="53.1" y="328.2" font-family="'Liberation Serif', serif" font-size="10.3" font-weight="normal" font-style="normal" text-anchor="end" >2</text>
<line x1="58" y1="295.9" x2="60.2" y2="295.9" stroke="#000" stroke-width="1" />
<text x="53.1" y="299.3" font-family="'Liberation Serif', serif" font-size="10.3" font-weight="normal" font-style="normal" text-anchor="end" >2.5</text>
<line x1="58" y1="267" x2="60.2" y2="267" stroke="#000" stroke-width="1" />
<text x="53.1" y="270.4" font-family="'Liberation Serif', serif" font-size="10.3" font-weight="normal" font-style="normal" text-anchor="end" >3</text>
<line x1="58" y1="440.4" x2="58" y2="437.4" stroke="#000" stroke-width="1" />
<text x="58" y="454.8" font-family="'Liberation Serif', serif" font-size="10.3" font-weight="normal" font-style="normal" text-anchor="middle" >0</text>
<line x1="82.56" y1="440.4" x2="82.56" y2="437.4" stroke="#000" stroke-width="1" />
<text x="82.56" y="454.8" font-family="'Liberation Serif', serif" font-size="10.3" font-weight="normal" font-style="normal" text-anchor="middle" >5</text>
<line x1="107.12" y1="440.4" x2="107.12" y2="437.4" stroke="#000" stroke-width="1" />
<text x="107.12" y="454.8" font-family="'Liberation Serif', serif" font-size="10.3" font-weight="normal" font-style="normal" text-anchor="middle" >10</text>
<line x1="131.68" y1="440.4" x2="131.68" y2="437.4" stroke="#000" stroke-width="1" />
<text x="131.68" y="454.8" font-family="'Liberation Serif', serif" font-size="10.3" font-weight="normal" font-style="normal" text-anchor="middle" >15</text>
<line x1="156.24" y1="440.4" x2="156.24" y2="437.4" stroke="#000" stroke-width="1" />
<text x="156.24" y="454.8" font-family="'Liberation Serif', serif" font-size="10.3" font-weight="normal" font-style="normal" text-anchor="middle" >20</text>
<line x1="180.8" y1="440.4" x2="180.8" y2="437.4" stroke="#000" stroke-width="1" />
<text x="180.8" y="454.8" font-family="'Liberation Serif', serif" font-size="10.3" font-weight="normal" font-style="normal" text-anchor="middle" >25</text>
<line x1="205.36" y1="440.4" x2="205.36" y2="437.4" stroke="#000" stroke-width="1" />
<text x="205.36" y="454.8" font-family="'Liberation Serif', serif" font-size="10.3" font-weight="normal" font-style="normal" text-anchor="middle" >30</text>
<line x1="229.92" y1="440.4" x2="229.92" y2="437.4" stroke="#000" stroke-width="1" />
<text x="229.92" y="454.8" font-family="'Liberation Serif', serif" font-size="10.3" font-weight="normal" font-style="normal" text-anchor="middle" >35</text>
<line x1="254.48" y1="440.4" x2="254.48" y2="437.4" stroke="#000" stroke-width="1" />
<text x="254.48" y="454.8" font-family="'Liberation Serif', serif" font-size="10.3" font-weight="normal" font-style="normal" text-anchor="middle" >40</text>
<line x1="279.04" y1="440.4" x2="279.04" y2="437.4" stroke="#000" stroke-width="1" />
<text x="279.04" y="454.8" font-family="'Liberation Serif', serif" font-size="10.3" font-weight="normal" font-style="normal" text-anchor="middle" >45</text>
<line x1="303.6" y1="440.4" x2="303.6" y2="437.4" stroke="#000" stroke-width="1" />
<text x="303.6" y="454.8" font-family="'Liberation Serif', serif" font-size="10.3" font-weight="normal" font-style="normal" text-anchor="middle" >50</text>
<text x="182.7" y="472.3" font-family="'Liberation Serif', serif" font-size="12.6" font-weight="bold" font-style="normal" text-anchor="middle" >Time (h)</text>
<text transform="translate(28.2,354.4) rotate(-90)" font-family="'Liberation Serif', serif" font-size="13.0" font-weight="bold" text-anchor="middle">Normalized heat-flow (m.W.g<tspan font-size="9.8" dy="-5.2">&#8722;1</tspan><tspan dy="5.2">)</tspan></text>
<path d="M58.8,416 L59.4,430 L59.2,439" fill="none" stroke="#000" stroke-width="1.4" stroke-linejoin="round" />
<path d="M58.5,440 L61,438.6 L63,439.4 L66,439" fill="none" stroke="#000" stroke-width="1.8" stroke-linejoin="round" />
<path d="M201.1,286.6 L240.9,286.6" fill="none" stroke="#000" stroke-width="2.1" stroke-linejoin="round" />
<text x="244.3" y="289.9" font-family="'Liberation Serif', serif" font-size="11.3" font-weight="normal" font-style="normal" text-anchor="start" >Reference</text>
<path d="M201.1,302.2 L240.9,302.2" fill="none" stroke="#000" stroke-width="2.1" stroke-dasharray="14.4,5.6" stroke-linejoin="round" />
<text x="244.3" y="306.6" font-family="'Liberation Serif', serif" font-size="11.3" font-weight="normal" font-style="normal" text-anchor="start" >50QP/50GP</text>
<path d="M201.1,318 L240.9,318" fill="none" stroke="#000" stroke-width="2.1" stroke-dasharray="14.4,5.5,1.5,5.5,1.5,5.5" stroke-linejoin="round" />
<text x="244.3" y="322.1" font-family="'Liberation Serif', serif" font-size="11.3" font-weight="normal" font-style="normal" text-anchor="start" >0QP/100GP</text>
<path d="M76.84,428.05 L77.35,428.63 L77.89,429.18 L78.46,429.7 L79.06,430.2 L79.69,430.66 L80.34,431.09 L81.01,431.5 L81.71,431.88 L82.42,432.22 L83.16,432.54 L83.91,432.83 L84.67,433.09 L85.45,433.32 L86.24,433.52 L87.04,433.69 L87.85,433.83 L88.67,433.95 L89.49,434.03 L90.31,434.09 L91.14,434.12 L91.97,434.11 L92.79,434.08 L93.61,434.02 L94.43,433.94 L95.24,433.82 L96.04,433.67 L96.84,433.5 L97.62,433.3 L98.39,433.07 L99.14,432.81 L99.88,432.52 L100.6,432.2 L101.3,431.86 L101.98,431.48 L102.64,431.08 L103.28,430.65 L103.89,430.19 L104.48,429.71 L105.05,429.21 L105.61,428.68 L106.14,428.13 L106.65,427.55 L107.14,426.96 L107.62,426.35 L108.08,425.72 L108.52,425.07 L108.95,424.41 L109.36,423.73 L109.75,423.04 L110.13,422.33 L110.5,421.61 L110.85,420.88 L111.19,420.14 L111.52,419.4 L111.84,418.64 L112.14,417.88 L112.43,417.11 L112.72,416.34 L112.99,415.56 L113.26,414.79 L113.52,414.01 L113.77,413.22 L114.01,412.44 L114.25,411.66 L114.48,410.87 L114.7,410.09 L114.91,409.3 L115.12,408.52 L115.32,407.73 L115.52,406.94 L115.71,406.16 L115.9,405.37 L116.08,404.58 L116.26,403.79 L116.43,403 L116.6,402.21 L116.77,401.42 L116.93,400.63 L117.09,399.84 L117.25,399.05 L117.4,398.26 L117.55,397.48 L117.7,396.69 L117.85,395.9 L117.99,395.11 L118.14,394.32 L118.28,393.53 L118.42,392.75 L118.56,391.96 L118.7,391.17 L118.84,390.39 L118.98,389.6 L119.11,388.82 L119.25,388.03 L119.38,387.25 L119.51,386.46 L119.64,385.68 L119.77,384.89 L119.9,384.11 L120.03,383.32 L120.16,382.54 L120.28,381.76 L120.41,380.97 L120.53,380.19 L120.66,379.41 L120.78,378.62 L120.9,377.84 L121.02,377.06 L121.15,376.27 L121.27,375.49 L121.39,374.71 L121.51,373.93 L121.62,373.15 L121.74,372.36 L121.86,371.58 L121.98,370.8 L122.1,370.02 L122.21,369.24 L122.33,368.45 L122.45,367.67 L122.56,366.89 L122.68,366.11 L122.8,365.33 L122.91,364.54 L123.03,363.76 L123.14,362.98 L123.26,362.2 L123.38,361.42 L123.49,360.63 L123.61,359.85 L123.72,359.07 L123.84,358.29 L123.96,357.5 L124.07,356.72 L124.19,355.94 L124.31,355.16 L124.43,354.37 L124.55,353.59 L124.66,352.81 L124.78,352.02 L124.9,351.24 L125.02,350.45 L125.15,349.67 L125.27,348.88 L125.39,348.1 L125.51,347.31 L125.64,346.53 L125.76,345.74 L125.89,344.96 L126.01,344.17 L126.14,343.39 L126.27,342.6 L126.4,341.81 L126.53,341.02 L126.66,340.24 L126.79,339.45 L126.92,338.66 L127.06,337.87 L127.19,337.08 L127.33,336.29 L127.47,335.5 L127.61,334.71 L127.75,333.92 L127.89,333.13 L128.03,332.34 L128.17,331.55 L128.32,330.75 L128.47,329.96 L128.62,329.17 L128.77,328.37 L128.92,327.58 L129.07,326.78 L129.23,325.99 L129.39,325.19 L129.54,324.4 L129.7,323.6 L129.87,322.8 L130.03,322 L130.2,321.2 L130.36,320.4 L130.53,319.6 L130.71,318.8 L130.88,318 L131.06,317.2 L131.23,316.4 L131.41,315.59 L131.6,314.79 L131.78,313.99 L131.97,313.18 L132.16,312.37 L132.35,311.57 L132.54,310.76 L132.74,309.95 L132.93,309.14 L133.14,308.33 L133.34,307.52 L133.54,306.71 L133.75,305.9 L133.97,305.09 L134.19,304.29 L134.42,303.49 L134.66,302.71 L134.91,301.94 L135.19,301.19 L135.48,300.46 L135.79,299.75 L136.12,299.06 L136.48,298.41 L136.86,297.79 L137.28,297.2 L137.72,296.65 L138.2,296.14 L138.71,295.7 L139.25,295.36 L139.81,295.14 L140.38,295.08 L140.96,295.16 L141.54,295.36 L142.11,295.66 L142.67,296.05 L143.2,296.5 L143.7,297.01 L144.18,297.56 L144.62,298.15 L145.05,298.79 L145.45,299.46 L145.82,300.17 L146.18,300.91 L146.52,301.67 L146.84,302.46 L147.15,303.26 L147.44,304.08 L147.72,304.91 L147.99,305.75 L148.25,306.59 L148.5,307.44 L148.74,308.28 L148.98,309.11 L149.22,309.94 L149.45,310.75 L149.68,311.56 L149.91,312.36 L150.13,313.15 L150.35,313.94 L150.57,314.72 L150.79,315.49 L151,316.25 L151.22,317.02 L151.43,317.77 L151.64,318.52 L151.84,319.27 L152.05,320.02 L152.25,320.76 L152.46,321.5 L152.66,322.24 L152.86,322.98 L153.07,323.72 L153.27,324.45 L153.47,325.19 L153.67,325.93 L153.87,326.67 L154.07,327.41 L154.27,328.15 L154.48,328.9 L154.68,329.65 L154.88,330.4 L155.09,331.16 L155.29,331.91 L155.5,332.67 L155.71,333.43 L155.92,334.19 L156.13,334.96 L156.34,335.72 L156.55,336.49 L156.77,337.26 L156.98,338.03 L157.2,338.8 L157.42,339.58 L157.64,340.35 L157.87,341.13 L158.09,341.9 L158.32,342.68 L158.55,343.46 L158.78,344.23 L159.02,345.01 L159.25,345.79 L159.49,346.57 L159.74,347.35 L159.98,348.13 L160.23,348.9 L160.48,349.68 L160.73,350.46 L160.99,351.23 L161.25,352.01 L161.51,352.78 L161.78,353.56 L162.05,354.33 L162.32,355.1 L162.6,355.87 L162.88,356.64 L163.16,357.4 L163.45,358.17 L163.74,358.93 L164.04,359.69 L164.34,360.45 L164.64,361.21 L164.95,361.96 L165.26,362.72 L165.58,363.47 L165.9,364.21 L166.22,364.96 L166.56,365.7 L166.89,366.44 L167.23,367.17 L167.58,367.9 L167.93,368.63 L168.28,369.36 L168.64,370.08 L169.01,370.8 L169.38,371.51 L169.75,372.22 L170.14,372.92 L170.52,373.63 L170.92,374.32 L171.31,375.02 L171.72,375.7 L172.13,376.39 L172.55,377.06 L172.97,377.74 L173.4,378.41 L173.83,379.07 L174.27,379.73 L174.72,380.38 L175.18,381.03 L175.64,381.67 L176.1,382.31 L176.57,382.94 L177.05,383.57 L177.53,384.19 L178.02,384.81 L178.52,385.42 L179.02,386.03 L179.53,386.63 L180.04,387.22 L180.56,387.82 L181.08,388.4 L181.61,388.98 L182.14,389.56 L182.68,390.13 L183.22,390.7 L183.77,391.26 L184.33,391.82 L184.89,392.37 L185.45,392.92 L186.02,393.46 L186.6,394 L187.18,394.53 L187.76,395.06 L188.35,395.58 L188.94,396.1 L189.54,396.62 L190.14,397.12 L190.75,397.63 L191.36,398.13 L191.97,398.62 L192.59,399.11 L193.22,399.6 L193.85,400.08 L194.48,400.56 L195.12,401.03 L195.76,401.5 L196.4,401.96 L197.05,402.42 L197.7,402.87 L198.36,403.32 L199.02,403.77 L199.68,404.21 L200.34,404.64 L201.01,405.07 L201.69,405.5 L202.37,405.92 L203.05,406.34 L203.73,406.75 L204.42,407.16 L205.11,407.57 L205.8,407.97 L206.5,408.36 L207.2,408.76 L207.9,409.14 L208.6,409.53 L209.31,409.91 L210.02,410.28 L210.73,410.65 L211.45,411.02 L212.17,411.38 L212.89,411.74 L213.61,412.09 L214.34,412.44 L215.07,412.79 L215.8,413.13 L216.53,413.47 L217.27,413.8 L218,414.13 L218.74,414.46 L219.48,414.78 L220.23,415.1 L220.97,415.41 L221.72,415.72 L222.47,416.03 L223.22,416.33 L223.97,416.63 L224.72,416.92 L225.48,417.21 L226.24,417.5 L226.99,417.78 L227.75,418.06 L228.51,418.33 L229.28,418.6 L230.04,418.87 L230.8,419.13 L231.57,419.39 L232.34,419.65 L233.1,419.9 L233.87,420.15 L234.64,420.39 L235.41,420.63 L236.18,420.87 L236.95,421.1 L237.72,421.33 L238.5,421.56 L239.27,421.78 L240.04,422 L240.81,422.22 L241.59,422.43 L242.36,422.64 L243.14,422.84 L243.91,423.05 L244.69,423.25 L245.47,423.44 L246.24,423.63 L247.02,423.82 L247.8,424.01 L248.57,424.19 L249.35,424.37 L250.13,424.55 L250.91,424.72 L251.69,424.89 L252.47,425.06 L253.25,425.23 L254.03,425.39 L254.81,425.55 L255.59,425.71 L256.37,425.86 L257.16,426.01 L257.94,426.16 L258.72,426.31 L259.51,426.45 L260.29,426.59 L261.07,426.73 L261.86,426.87 L262.64,427 L263.43,427.14 L264.21,427.27 L265,427.39 L265.79,427.52 L266.57,427.64 L267.36,427.76 L268.15,427.88 L268.93,428 L269.72,428.12 L270.51,428.23 L271.3,428.34 L272.09,428.45 L272.88,428.56 L273.67,428.67 L274.46,428.77 L275.25,428.87 L276.04,428.97 L276.83,429.07 L277.62,429.17 L278.41,429.27 L279.2,429.36 L280,429.46 L280.79,429.55 L281.58,429.64 L282.38,429.73 L283.17,429.82 L283.96,429.91 L284.76,430 L285.55,430.08 L286.35,430.17 L287.14,430.25 L287.94,430.33 L288.73,430.41 L289.53,430.5 L290.33,430.58 L291.12,430.65 L291.92,430.73 L292.72,430.81 L293.51,430.89 L294.31,430.96 L295.11,431.04 L295.91,431.12 L296.71,431.19 L297.5,431.26 L298.3,431.34 L299.1,431.41 L299.9,431.49 L300.7,431.56 L301.5,431.63 L302.3,431.7 L303.1,431.78 L303.9,431.85 L304.71,431.92" fill="none" stroke="#000" stroke-width="2" stroke-linejoin="round" />
<path d="M77.07,428.63 L77.56,429.01 L78.11,429.39 L78.7,429.78 L79.33,430.18 L80.01,430.57 L80.71,430.96 L81.45,431.34 L82.22,431.71 L83,432.06 L83.81,432.39 L84.63,432.7 L85.47,432.98 L86.31,433.23 L87.16,433.45 L88,433.63 L88.84,433.77 L89.67,433.86 L90.49,433.9 L91.3,433.89 L92.09,433.83 L92.86,433.72 L93.62,433.57 L94.37,433.38 L95.1,433.14 L95.81,432.86 L96.51,432.55 L97.19,432.2 L97.86,431.82 L98.51,431.4 L99.15,430.96 L99.77,430.49 L100.37,429.99 L100.96,429.47 L101.53,428.93 L102.09,428.38 L102.63,427.8 L103.15,427.21 L103.66,426.6 L104.15,425.99 L104.63,425.36 L105.08,424.72 L105.53,424.08 L105.96,423.42 L106.37,422.76 L106.77,422.09 L107.16,421.41 L107.54,420.72 L107.9,420.02 L108.25,419.32 L108.58,418.61 L108.91,417.89 L109.22,417.16 L109.52,416.43 L109.82,415.7 L110.1,414.95 L110.37,414.2 L110.63,413.45 L110.89,412.69 L111.13,411.93 L111.37,411.16 L111.6,410.39 L111.83,409.61 L112.04,408.83 L112.25,408.05 L112.46,407.26 L112.65,406.47 L112.85,405.68 L113.03,404.89 L113.22,404.09 L113.4,403.3 L113.57,402.5 L113.75,401.7 L113.92,400.9 L114.08,400.1 L114.25,399.3 L114.41,398.5 L114.58,397.7 L114.74,396.9 L114.9,396.1 L115.06,395.31 L115.21,394.51 L115.37,393.71 L115.53,392.91 L115.68,392.12 L115.84,391.32 L115.99,390.52 L116.14,389.73 L116.29,388.93 L116.44,388.14 L116.59,387.35 L116.74,386.55 L116.89,385.76 L117.03,384.97 L117.18,384.17 L117.32,383.38 L117.46,382.59 L117.61,381.8 L117.75,381.01 L117.89,380.21 L118.03,379.42 L118.17,378.63 L118.31,377.84 L118.44,377.05 L118.58,376.27 L118.72,375.48 L118.85,374.69 L118.99,373.9 L119.12,373.11 L119.26,372.33 L119.39,371.54 L119.52,370.75 L119.65,369.97 L119.78,369.18 L119.91,368.39 L120.04,367.61 L120.17,366.82 L120.3,366.04 L120.43,365.25 L120.56,364.47 L120.69,363.68 L120.81,362.9 L120.94,362.12 L121.07,361.33 L121.19,360.55 L121.32,359.77 L121.44,358.98 L121.57,358.2 L121.69,357.42 L121.82,356.64 L121.94,355.86 L122.06,355.08 L122.19,354.29 L122.31,353.51 L122.43,352.73 L122.55,351.95 L122.68,351.17 L122.8,350.39 L122.92,349.61 L123.04,348.83 L123.16,348.05 L123.28,347.27 L123.41,346.49 L123.53,345.72 L123.65,344.94 L123.77,344.16 L123.89,343.38 L124.02,342.6 L124.14,341.82 L124.26,341.04 L124.38,340.26 L124.51,339.48 L124.63,338.7 L124.75,337.92 L124.88,337.13 L125,336.35 L125.13,335.57 L125.25,334.79 L125.38,334.01 L125.51,333.22 L125.63,332.44 L125.76,331.66 L125.89,330.87 L126.02,330.09 L126.15,329.3 L126.28,328.52 L126.41,327.73 L126.55,326.94 L126.68,326.15 L126.81,325.37 L126.95,324.58 L127.08,323.79 L127.22,323 L127.36,322.21 L127.5,321.41 L127.64,320.62 L127.78,319.83 L127.92,319.03 L128.07,318.24 L128.21,317.44 L128.36,316.64 L128.51,315.84 L128.66,315.04 L128.81,314.24 L128.96,313.44 L129.11,312.64 L129.27,311.84 L129.42,311.03 L129.58,310.22 L129.74,309.42 L129.9,308.61 L130.06,307.8 L130.23,306.99 L130.39,306.18 L130.56,305.36 L130.73,304.55 L130.9,303.73 L131.08,302.91 L131.25,302.09 L131.43,301.27 L131.61,300.45 L131.79,299.63 L131.99,298.82 L132.19,298.02 L132.41,297.23 L132.65,296.46 L132.9,295.7 L133.19,294.98 L133.49,294.28 L133.83,293.61 L134.2,292.97 L134.6,292.38 L135.04,291.82 L135.53,291.32 L136.06,290.86 L136.63,290.45 L137.26,290.1 L137.92,289.84 L138.6,289.72 L139.27,289.75 L139.91,289.91 L140.49,290.2 L141.01,290.6 L141.49,291.09 L141.92,291.67 L142.31,292.32 L142.67,293.04 L143,293.8 L143.31,294.61 L143.6,295.45 L143.87,296.3 L144.14,297.16 L144.41,298.02 L144.68,298.86 L144.95,299.69 L145.23,300.51 L145.5,301.32 L145.78,302.11 L146.06,302.9 L146.34,303.67 L146.62,304.44 L146.9,305.2 L147.18,305.95 L147.45,306.7 L147.73,307.44 L148.01,308.18 L148.28,308.91 L148.55,309.64 L148.82,310.37 L149.08,311.1 L149.35,311.82 L149.61,312.55 L149.86,313.28 L150.11,314.01 L150.36,314.74 L150.6,315.47 L150.83,316.21 L151.06,316.96 L151.29,317.7 L151.52,318.45 L151.73,319.2 L151.95,319.96 L152.16,320.72 L152.37,321.48 L152.58,322.24 L152.78,323.01 L152.98,323.77 L153.18,324.54 L153.37,325.31 L153.57,326.09 L153.76,326.86 L153.95,327.64 L154.14,328.42 L154.33,329.2 L154.51,329.98 L154.7,330.76 L154.89,331.55 L155.07,332.33 L155.26,333.12 L155.44,333.9 L155.63,334.69 L155.82,335.48 L156,336.26 L156.19,337.05 L156.38,337.84 L156.58,338.63 L156.77,339.41 L156.96,340.2 L157.16,340.99 L157.36,341.77 L157.56,342.56 L157.77,343.34 L157.98,344.13 L158.19,344.91 L158.4,345.69 L158.62,346.47 L158.84,347.25 L159.07,348.03 L159.3,348.8 L159.54,349.58 L159.78,350.35 L160.02,351.12 L160.27,351.89 L160.53,352.65 L160.79,353.42 L161.05,354.18 L161.33,354.94 L161.6,355.69 L161.89,356.44 L162.18,357.2 L162.47,357.94 L162.78,358.69 L163.08,359.43 L163.4,360.17 L163.71,360.91 L164.04,361.64 L164.37,362.37 L164.7,363.1 L165.04,363.83 L165.39,364.55 L165.74,365.27 L166.1,365.99 L166.46,366.7 L166.83,367.41 L167.2,368.12 L167.58,368.83 L167.96,369.53 L168.35,370.23 L168.74,370.92 L169.14,371.62 L169.55,372.31 L169.95,372.99 L170.37,373.68 L170.79,374.36 L171.21,375.03 L171.64,375.71 L172.07,376.38 L172.51,377.05 L172.96,377.71 L173.4,378.37 L173.86,379.03 L174.32,379.68 L174.78,380.33 L175.25,380.98 L175.72,381.62 L176.19,382.26 L176.68,382.9 L177.16,383.53 L177.65,384.16 L178.15,384.78 L178.65,385.4 L179.15,386.02 L179.66,386.64 L180.17,387.25 L180.69,387.85 L181.21,388.46 L181.74,389.06 L182.27,389.65 L182.8,390.24 L183.34,390.83 L183.88,391.42 L184.43,392 L184.98,392.57 L185.53,393.14 L186.09,393.71 L186.66,394.28 L187.22,394.84 L187.79,395.39 L188.37,395.94 L188.95,396.49 L189.53,397.04 L190.12,397.57 L190.71,398.11 L191.3,398.64 L191.9,399.17 L192.5,399.69 L193.1,400.21 L193.71,400.72 L194.33,401.23 L194.94,401.74 L195.56,402.24 L196.18,402.73 L196.81,403.23 L197.44,403.71 L198.07,404.2 L198.71,404.68 L199.35,405.15 L199.99,405.62 L200.64,406.08 L201.29,406.54 L201.94,407 L202.6,407.45 L203.26,407.9 L203.92,408.34 L204.59,408.78 L205.26,409.21 L205.93,409.63 L206.6,410.06 L207.28,410.47 L207.96,410.89 L208.65,411.29 L209.33,411.7 L210.02,412.1 L210.72,412.49 L211.41,412.88 L212.11,413.26 L212.81,413.64 L213.52,414.01 L214.22,414.38 L214.93,414.74 L215.64,415.1 L216.36,415.45 L217.07,415.8 L217.79,416.14 L218.51,416.48 L219.24,416.81 L219.96,417.13 L220.69,417.45 L221.42,417.77 L222.16,418.08 L222.89,418.39 L223.63,418.68 L224.37,418.98 L225.12,419.27 L225.86,419.55 L226.61,419.83 L227.36,420.1 L228.11,420.37 L228.86,420.64 L229.61,420.9 L230.37,421.15 L231.13,421.4 L231.89,421.64 L232.65,421.88 L233.42,422.12 L234.18,422.35 L234.95,422.58 L235.72,422.8 L236.49,423.02 L237.26,423.23 L238.04,423.44 L238.81,423.65 L239.59,423.85 L240.37,424.04 L241.15,424.24 L241.93,424.43 L242.71,424.61 L243.5,424.8 L244.28,424.97 L245.07,425.15 L245.85,425.32 L246.64,425.49 L247.43,425.65 L248.22,425.81 L249.01,425.97 L249.8,426.13 L250.6,426.28 L251.39,426.42 L252.19,426.57 L252.98,426.71 L253.78,426.85 L254.58,426.99 L255.37,427.12 L256.17,427.25 L256.97,427.38 L257.77,427.51 L258.57,427.63 L259.37,427.75 L260.17,427.87 L260.98,427.98 L261.78,428.1 L262.58,428.21 L263.38,428.32 L264.19,428.42 L264.99,428.53 L265.79,428.63 L266.6,428.73 L267.4,428.83 L268.2,428.93 L269.01,429.02 L269.81,429.11 L270.61,429.21 L271.42,429.3 L272.22,429.39 L273.02,429.47 L273.83,429.56 L274.63,429.64 L275.43,429.73 L276.24,429.81 L277.04,429.89 L277.84,429.97 L278.64,430.05 L279.44,430.13 L280.24,430.2 L281.04,430.28 L281.84,430.36 L282.64,430.43 L283.43,430.51 L284.23,430.58 L285.03,430.65 L285.82,430.73 L286.62,430.8 L287.41,430.87 L288.2,430.94 L289,431.01 L289.79,431.08 L290.58,431.16 L291.37,431.23 L292.15,431.3 L292.94,431.37 L293.73,431.44 L294.51,431.51 L295.29,431.58 L296.07,431.66 L296.85,431.73 L297.63,431.8 L298.41,431.88 L299.19,431.95 L299.96,432.03 L300.74,432.1 L301.51,432.18 L302.28,432.26 L303.05,432.34 L303.81,432.41 L304.58,432.5" fill="none" stroke="#000" stroke-width="1.9" stroke-dasharray="14.4,5.6" stroke-linejoin="round" stroke-dashoffset="8.33"/>
<path d="M77.28,428.57 L77.71,429.19 L78.23,429.74 L78.82,430.22 L79.47,430.63 L80.18,430.98 L80.94,431.26 L81.74,431.49 L82.57,431.65 L83.43,431.75 L84.31,431.8 L85.2,431.79 L86.09,431.73 L86.98,431.61 L87.85,431.45 L88.71,431.24 L89.54,430.98 L90.34,430.68 L91.09,430.33 L91.8,429.95 L92.46,429.52 L93.07,429.06 L93.65,428.56 L94.18,428.03 L94.68,427.47 L95.14,426.88 L95.57,426.27 L95.97,425.62 L96.34,424.96 L96.68,424.28 L97.01,423.58 L97.31,422.86 L97.59,422.13 L97.86,421.39 L98.12,420.63 L98.36,419.87 L98.6,419.11 L98.83,418.33 L99.06,417.56 L99.29,416.79 L99.51,416.02 L99.73,415.24 L99.95,414.47 L100.16,413.7 L100.38,412.92 L100.59,412.15 L100.8,411.37 L101.01,410.6 L101.21,409.82 L101.41,409.04 L101.62,408.27 L101.82,407.49 L102.01,406.71 L102.21,405.93 L102.4,405.15 L102.59,404.37 L102.78,403.59 L102.97,402.81 L103.16,402.03 L103.34,401.25 L103.53,400.47 L103.71,399.69 L103.89,398.91 L104.06,398.13 L104.24,397.35 L104.41,396.57 L104.59,395.78 L104.76,395 L104.93,394.22 L105.1,393.43 L105.27,392.65 L105.43,391.87 L105.6,391.08 L105.76,390.3 L105.92,389.51 L106.08,388.73 L106.24,387.94 L106.4,387.16 L106.55,386.37 L106.71,385.59 L106.86,384.8 L107.02,384.02 L107.17,383.23 L107.32,382.44 L107.47,381.66 L107.62,380.87 L107.77,380.08 L107.91,379.3 L108.06,378.51 L108.21,377.72 L108.35,376.93 L108.49,376.15 L108.64,375.36 L108.78,374.57 L108.92,373.78 L109.06,373 L109.2,372.21 L109.34,371.42 L109.48,370.63 L109.61,369.84 L109.75,369.06 L109.89,368.27 L110.02,367.48 L110.16,366.69 L110.29,365.9 L110.43,365.12 L110.56,364.33 L110.69,363.54 L110.83,362.75 L110.96,361.96 L111.09,361.17 L111.23,360.39 L111.36,359.6 L111.49,358.81 L111.62,358.02 L111.75,357.23 L111.88,356.45 L112.02,355.66 L112.15,354.87 L112.28,354.08 L112.41,353.3 L112.54,352.51 L112.67,351.72 L112.8,350.93 L112.93,350.15 L113.07,349.36 L113.2,348.57 L113.33,347.78 L113.46,347 L113.59,346.21 L113.72,345.43 L113.86,344.64 L113.99,343.85 L114.12,343.07 L114.26,342.28 L114.39,341.5 L114.53,340.71 L114.66,339.93 L114.8,339.14 L114.93,338.36 L115.07,337.57 L115.21,336.79 L115.34,336 L115.48,335.22 L115.62,334.44 L115.76,333.65 L115.9,332.87 L116.05,332.09 L116.19,331.3 L116.33,330.52 L116.48,329.74 L116.63,328.96 L116.78,328.17 L116.93,327.39 L117.08,326.61 L117.23,325.83 L117.39,325.04 L117.54,324.26 L117.7,323.48 L117.86,322.7 L118.02,321.92 L118.19,321.13 L118.35,320.35 L118.52,319.57 L118.69,318.79 L118.86,318 L119.04,317.22 L119.21,316.44 L119.39,315.66 L119.57,314.88 L119.76,314.09 L119.95,313.31 L120.13,312.53 L120.33,311.75 L120.52,310.96 L120.72,310.18 L120.92,309.4 L121.12,308.62 L121.33,307.83 L121.54,307.05 L121.75,306.27 L121.97,305.48 L122.19,304.7 L122.41,303.91 L122.64,303.13 L122.87,302.35 L123.1,301.56 L123.34,300.78 L123.58,299.99 L123.82,299.21 L124.07,298.42 L124.32,297.64 L124.57,296.85 L124.83,296.06 L125.1,295.28 L125.37,294.5 L125.66,293.76 L125.98,293.06 L126.33,292.43 L126.73,291.88 L127.18,291.43 L127.68,291.1 L128.26,290.92 L128.91,290.88 L129.59,290.99 L130.24,291.23 L130.82,291.59 L131.34,292.05 L131.8,292.61 L132.22,293.23 L132.59,293.92 L132.93,294.66 L133.24,295.44 L133.54,296.23 L133.83,297.04 L134.11,297.84 L134.39,298.64 L134.66,299.44 L134.93,300.24 L135.2,301.04 L135.46,301.83 L135.73,302.62 L135.98,303.41 L136.24,304.2 L136.49,304.98 L136.74,305.77 L136.99,306.55 L137.24,307.33 L137.48,308.11 L137.72,308.88 L137.96,309.66 L138.19,310.43 L138.43,311.2 L138.66,311.97 L138.89,312.74 L139.12,313.51 L139.35,314.28 L139.58,315.05 L139.8,315.81 L140.03,316.57 L140.25,317.34 L140.47,318.1 L140.69,318.86 L140.91,319.62 L141.13,320.38 L141.35,321.14 L141.57,321.9 L141.79,322.66 L142.01,323.42 L142.23,324.17 L142.44,324.93 L142.66,325.69 L142.88,326.44 L143.1,327.2 L143.32,327.96 L143.54,328.71 L143.76,329.47 L143.98,330.22 L144.2,330.98 L144.42,331.74 L144.65,332.49 L144.87,333.25 L145.1,334.01 L145.33,334.77 L145.55,335.53 L145.78,336.28 L146.02,337.04 L146.25,337.8 L146.49,338.56 L146.72,339.32 L146.96,340.08 L147.2,340.84 L147.44,341.6 L147.69,342.36 L147.93,343.13 L148.18,343.89 L148.43,344.65 L148.68,345.41 L148.94,346.17 L149.19,346.92 L149.45,347.68 L149.71,348.44 L149.98,349.2 L150.24,349.96 L150.51,350.72 L150.78,351.47 L151.06,352.23 L151.33,352.98 L151.61,353.74 L151.89,354.49 L152.18,355.25 L152.46,356 L152.75,356.75 L153.05,357.5 L153.34,358.25 L153.64,359 L153.94,359.75 L154.25,360.49 L154.56,361.24 L154.87,361.98 L155.19,362.72 L155.5,363.47 L155.83,364.21 L156.15,364.94 L156.48,365.68 L156.81,366.42 L157.15,367.15 L157.49,367.88 L157.83,368.61 L158.18,369.34 L158.53,370.07 L158.89,370.79 L159.25,371.52 L159.61,372.24 L159.98,372.96 L160.35,373.68 L160.72,374.39 L161.1,375.1 L161.49,375.81 L161.88,376.52 L162.27,377.22 L162.66,377.93 L163.07,378.63 L163.47,379.32 L163.88,380.01 L164.3,380.7 L164.71,381.39 L165.14,382.07 L165.57,382.75 L166,383.43 L166.44,384.1 L166.88,384.76 L167.33,385.43 L167.78,386.09 L168.24,386.74 L168.7,387.39 L169.16,388.03 L169.64,388.67 L170.11,389.31 L170.59,389.94 L171.08,390.57 L171.57,391.19 L172.07,391.8 L172.57,392.41 L173.08,393.02 L173.59,393.61 L174.11,394.21 L174.64,394.79 L175.17,395.38 L175.7,395.95 L176.24,396.52 L176.79,397.08 L177.34,397.64 L177.9,398.19 L178.46,398.73 L179.03,399.26 L179.6,399.79 L180.18,400.31 L180.77,400.83 L181.36,401.34 L181.96,401.84 L182.56,402.33 L183.17,402.81 L183.79,403.29 L184.41,403.76 L185.04,404.22 L185.68,404.67 L186.32,405.12 L186.96,405.55 L187.62,405.98 L188.28,406.4 L188.94,406.82 L189.61,407.22 L190.28,407.62 L190.97,408.01 L191.65,408.4 L192.34,408.77 L193.04,409.14 L193.74,409.51 L194.44,409.87 L195.15,410.22 L195.87,410.56 L196.59,410.9 L197.31,411.23 L198.04,411.56 L198.77,411.88 L199.5,412.19 L200.24,412.5 L200.98,412.8 L201.73,413.1 L202.48,413.39 L203.23,413.68 L203.98,413.96 L204.74,414.24 L205.5,414.51 L206.27,414.78 L207.03,415.05 L207.8,415.31 L208.57,415.56 L209.35,415.81 L210.12,416.06 L210.9,416.3 L211.68,416.54 L212.46,416.78 L213.24,417.01 L214.03,417.24 L214.82,417.47 L215.6,417.69 L216.39,417.91 L217.18,418.13 L217.97,418.34 L218.76,418.55 L219.55,418.76 L220.35,418.97 L221.14,419.17 L221.93,419.38 L222.72,419.58 L223.52,419.78 L224.31,419.97 L225.1,420.17 L225.9,420.36 L226.69,420.55 L227.48,420.75 L228.27,420.94 L229.06,421.12 L229.85,421.31 L230.64,421.5 L231.43,421.69 L232.21,421.87 L233,422.06 L233.79,422.24 L234.57,422.42 L235.35,422.6 L236.14,422.79 L236.92,422.97 L237.7,423.14 L238.48,423.32 L239.26,423.5 L240.04,423.67 L240.82,423.85 L241.6,424.02 L242.38,424.19 L243.16,424.36 L243.94,424.53 L244.71,424.7 L245.49,424.87 L246.27,425.03 L247.05,425.2 L247.82,425.36 L248.6,425.52 L249.37,425.68 L250.15,425.84 L250.92,426 L251.7,426.16 L252.48,426.31 L253.25,426.46 L254.03,426.62 L254.8,426.77 L255.58,426.92 L256.35,427.06 L257.13,427.21 L257.9,427.35 L258.68,427.5 L259.45,427.64 L260.23,427.78 L261.01,427.92 L261.78,428.05 L262.56,428.19 L263.33,428.32 L264.11,428.45 L264.89,428.58 L265.67,428.71 L266.45,428.84 L267.22,428.96 L268,429.08 L268.78,429.21 L269.56,429.32 L270.34,429.44 L271.12,429.56 L271.91,429.67 L272.69,429.78 L273.47,429.89 L274.26,430 L275.04,430.11 L275.82,430.21 L276.61,430.31 L277.4,430.41 L278.18,430.51 L278.97,430.61 L279.76,430.7 L280.55,430.79 L281.34,430.88 L282.14,430.97 L282.93,431.06 L283.72,431.14 L284.52,431.22 L285.31,431.3 L286.11,431.38 L286.91,431.45 L287.71,431.52 L288.51,431.6 L289.31,431.66 L290.11,431.73 L290.92,431.79 L291.72,431.85 L292.53,431.91 L293.34,431.97 L294.15,432.02 L294.96,432.07 L295.77,432.12 L296.58,432.17 L297.4,432.21 L298.22,432.26 L299.03,432.29 L299.85,432.33 L300.68,432.37 L301.5,432.4 L302.32,432.43 L303.15,432.45 L303.98,432.48 L304.81,432.5" fill="none" stroke="#000" stroke-width="1.9" stroke-dasharray="14.4,5.5,1.5,5.5,1.5,5.5" stroke-linejoin="round" stroke-dashoffset="27.94"/>
<rect x="386.8" y="163.09" width="5.1" height="41.71" fill="#000" stroke="#000" stroke-width="0.6"/>
<rect x="391.9" y="114.87" width="5.1" height="89.93" fill="url(#h1)" stroke="#000" stroke-width="0.6"/>
<rect x="397" y="74.24" width="5.1" height="130.56" fill="url(#c2)" stroke="#000" stroke-width="0.6"/>
<rect x="402.1" y="69.64" width="5.1" height="135.16" fill="#c3c3c3" stroke="#000" stroke-width="0.6"/>
<rect x="407.2" y="67.34" width="5.1" height="137.46" fill="url(#b3)" stroke="#000" stroke-width="0.6"/>
<text x="399.55" y="216.8" font-family="'Liberation Serif', serif" font-size="9.1" font-weight="normal" font-style="normal" text-anchor="middle" >Reference</text>
<rect x="438.3" y="166.77" width="5.1" height="38.03" fill="#000" stroke="#000" stroke-width="0.6"/>
<rect x="443.4" y="120.39" width="5.1" height="84.41" fill="url(#h4)" stroke="#000" stroke-width="0.6"/>
<rect x="448.5" y="75.69" width="5.1" height="129.11" fill="url(#c5)" stroke="#000" stroke-width="0.6"/>
<rect x="453.6" y="63.2" width="5.1" height="141.6" fill="#c3c3c3" stroke="#000" stroke-width="0.6"/>
<rect x="458.7" y="53.31" width="5.1" height="151.49" fill="url(#b6)" stroke="#000" stroke-width="0.6"/>
<text x="451.05" y="216.8" font-family="'Liberation Serif', serif" font-size="9.1" font-weight="normal" font-style="normal" text-anchor="middle" >90C/10GP</text>
<rect x="489.8" y="171.22" width="5.1" height="33.58" fill="#000" stroke="#000" stroke-width="0.6"/>
<rect x="494.9" y="124.53" width="5.1" height="80.27" fill="url(#h7)" stroke="#000" stroke-width="0.6"/>
<rect x="500" y="74.24" width="5.1" height="130.56" fill="url(#c8)" stroke="#000" stroke-width="0.6"/>
<rect x="505.1" y="62.12" width="5.1" height="142.68" fill="#c3c3c3" stroke="#000" stroke-width="0.6"/>
<rect x="510.2" y="50.47" width="5.1" height="154.33" fill="url(#b9)" stroke="#000" stroke-width="0.6"/>
<text x="502.55" y="216.8" font-family="'Liberation Serif', serif" font-size="9.1" font-weight="normal" font-style="normal" text-anchor="middle" >80C/20GP</text>
<rect x="541.3" y="177.74" width="5.1" height="27.06" fill="#000" stroke="#000" stroke-width="0.6"/>
<rect x="546.4" y="129.13" width="5.1" height="75.67" fill="url(#h10)" stroke="#000" stroke-width="0.6"/>
<rect x="551.5" y="79.6" width="5.1" height="125.2" fill="url(#c11)" stroke="#000" stroke-width="0.6"/>
<rect x="556.6" y="69.18" width="5.1" height="135.62" fill="#c3c3c3" stroke="#000" stroke-width="0.6"/>
<rect x="561.7" y="55.38" width="5.1" height="149.42" fill="url(#b12)" stroke="#000" stroke-width="0.6"/>
<text x="554.05" y="216.8" font-family="'Liberation Serif', serif" font-size="9.1" font-weight="normal" font-style="normal" text-anchor="middle" >70C/30GP</text>
<rect x="592.8" y="182.18" width="5.1" height="22.62" fill="#000" stroke="#000" stroke-width="0.6"/>
<rect x="597.9" y="132.81" width="5.1" height="71.99" fill="url(#h13)" stroke="#000" stroke-width="0.6"/>
<rect x="603" y="88.19" width="5.1" height="116.61" fill="url(#c14)" stroke="#000" stroke-width="0.6"/>
<rect x="608.1" y="70.94" width="5.1" height="133.86" fill="#c3c3c3" stroke="#000" stroke-width="0.6"/>
<rect x="613.2" y="58.6" width="5.1" height="146.2" fill="url(#b15)" stroke="#000" stroke-width="0.6"/>
<text x="605.55" y="216.8" font-family="'Liberation Serif', serif" font-size="9.1" font-weight="normal" font-style="normal" text-anchor="middle" >60C/40GP</text>
<rect x="644.3" y="186.02" width="5.1" height="18.78" fill="#000" stroke="#000" stroke-width="0.6"/>
<rect x="649.4" y="139.02" width="5.1" height="65.78" fill="url(#h16)" stroke="#000" stroke-width="0.6"/>
<rect x="654.5" y="94.09" width="5.1" height="110.71" fill="url(#c17)" stroke="#000" stroke-width="0.6"/>
<rect x="659.6" y="84.43" width="5.1" height="120.37" fill="#c3c3c3" stroke="#000" stroke-width="0.6"/>
<rect x="664.7" y="64.27" width="5.1" height="140.53" fill="url(#b18)" stroke="#000" stroke-width="0.6"/>
<text x="657.05" y="216.8" font-family="'Liberation Serif', serif" font-size="9.1" font-weight="normal" font-style="normal" text-anchor="middle" >50C/50GP</text>
<line x1="374.2" y1="32" x2="374.2" y2="205.4" stroke="#000" stroke-width="1.2" />
<line x1="373.6" y1="204.9" x2="683.3" y2="204.9" stroke="#000" stroke-width="1.3" />
<line x1="374.2" y1="204.8" x2="377.2" y2="204.8" stroke="#000" stroke-width="1" />
<text x="370.3" y="208.2" font-family="'Liberation Serif', serif" font-size="9.1" font-weight="normal" font-style="normal" text-anchor="end" >0</text>
<line x1="374.2" y1="200.97" x2="376" y2="200.97" stroke="#000" stroke-width="0.9" />
<line x1="374.2" y1="197.13" x2="376" y2="197.13" stroke="#000" stroke-width="0.9" />
<line x1="374.2" y1="193.3" x2="376" y2="193.3" stroke="#000" stroke-width="0.9" />
<line x1="374.2" y1="189.47" x2="376" y2="189.47" stroke="#000" stroke-width="0.9" />
<line x1="374.2" y1="185.63" x2="377.2" y2="185.63" stroke="#000" stroke-width="1" />
<text x="370.3" y="189.03" font-family="'Liberation Serif', serif" font-size="9.1" font-weight="normal" font-style="normal" text-anchor="end" >25</text>
<line x1="374.2" y1="181.8" x2="376" y2="181.8" stroke="#000" stroke-width="0.9" />
<line x1="374.2" y1="177.97" x2="376" y2="177.97" stroke="#000" stroke-width="0.9" />
<line x1="374.2" y1="174.13" x2="376" y2="174.13" stroke="#000" stroke-width="0.9" />
<line x1="374.2" y1="170.3" x2="376" y2="170.3" stroke="#000" stroke-width="0.9" />
<line x1="374.2" y1="166.47" x2="377.2" y2="166.47" stroke="#000" stroke-width="1" />
<text x="370.3" y="169.87" font-family="'Liberation Serif', serif" font-size="9.1" font-weight="normal" font-style="normal" text-anchor="end" >50</text>
<line x1="374.2" y1="162.63" x2="376" y2="162.63" stroke="#000" stroke-width="0.9" />
<line x1="374.2" y1="158.8" x2="376" y2="158.8" stroke="#000" stroke-width="0.9" />
<line x1="374.2" y1="154.97" x2="376" y2="154.97" stroke="#000" stroke-width="0.9" />
<line x1="374.2" y1="151.13" x2="376" y2="151.13" stroke="#000" stroke-width="0.9" />
<line x1="374.2" y1="147.3" x2="377.2" y2="147.3" stroke="#000" stroke-width="1" />
<text x="370.3" y="150.7" font-family="'Liberation Serif', serif" font-size="9.1" font-weight="normal" font-style="normal" text-anchor="end" >75</text>
<line x1="374.2" y1="143.47" x2="376" y2="143.47" stroke="#000" stroke-width="0.9" />
<line x1="374.2" y1="139.63" x2="376" y2="139.63" stroke="#000" stroke-width="0.9" />
<line x1="374.2" y1="135.8" x2="376" y2="135.8" stroke="#000" stroke-width="0.9" />
<line x1="374.2" y1="131.97" x2="376" y2="131.97" stroke="#000" stroke-width="0.9" />
<line x1="374.2" y1="128.13" x2="377.2" y2="128.13" stroke="#000" stroke-width="1" />
<text x="370.3" y="131.53" font-family="'Liberation Serif', serif" font-size="9.1" font-weight="normal" font-style="normal" text-anchor="end" >100</text>
<line x1="374.2" y1="124.3" x2="376" y2="124.3" stroke="#000" stroke-width="0.9" />
<line x1="374.2" y1="120.47" x2="376" y2="120.47" stroke="#000" stroke-width="0.9" />
<line x1="374.2" y1="116.63" x2="376" y2="116.63" stroke="#000" stroke-width="0.9" />
<line x1="374.2" y1="112.8" x2="376" y2="112.8" stroke="#000" stroke-width="0.9" />
<line x1="374.2" y1="108.97" x2="377.2" y2="108.97" stroke="#000" stroke-width="1" />
<text x="370.3" y="112.37" font-family="'Liberation Serif', serif" font-size="9.1" font-weight="normal" font-style="normal" text-anchor="end" >125</text>
<line x1="374.2" y1="105.13" x2="376" y2="105.13" stroke="#000" stroke-width="0.9" />
<line x1="374.2" y1="101.3" x2="376" y2="101.3" stroke="#000" stroke-width="0.9" />
<line x1="374.2" y1="97.47" x2="376" y2="97.47" stroke="#000" stroke-width="0.9" />
<line x1="374.2" y1="93.63" x2="376" y2="93.63" stroke="#000" stroke-width="0.9" />
<line x1="374.2" y1="89.8" x2="377.2" y2="89.8" stroke="#000" stroke-width="1" />
<text x="370.3" y="93.2" font-family="'Liberation Serif', serif" font-size="9.1" font-weight="normal" font-style="normal" text-anchor="end" >150</text>
<line x1="374.2" y1="85.97" x2="376" y2="85.97" stroke="#000" stroke-width="0.9" />
<line x1="374.2" y1="82.13" x2="376" y2="82.13" stroke="#000" stroke-width="0.9" />
<line x1="374.2" y1="78.3" x2="376" y2="78.3" stroke="#000" stroke-width="0.9" />
<line x1="374.2" y1="74.47" x2="376" y2="74.47" stroke="#000" stroke-width="0.9" />
<line x1="374.2" y1="70.63" x2="377.2" y2="70.63" stroke="#000" stroke-width="1" />
<text x="370.3" y="74.03" font-family="'Liberation Serif', serif" font-size="9.1" font-weight="normal" font-style="normal" text-anchor="end" >175</text>
<line x1="374.2" y1="66.8" x2="376" y2="66.8" stroke="#000" stroke-width="0.9" />
<line x1="374.2" y1="62.97" x2="376" y2="62.97" stroke="#000" stroke-width="0.9" />
<line x1="374.2" y1="59.13" x2="376" y2="59.13" stroke="#000" stroke-width="0.9" />
<line x1="374.2" y1="55.3" x2="376" y2="55.3" stroke="#000" stroke-width="0.9" />
<line x1="374.2" y1="51.47" x2="377.2" y2="51.47" stroke="#000" stroke-width="1" />
<text x="370.3" y="54.87" font-family="'Liberation Serif', serif" font-size="9.1" font-weight="normal" font-style="normal" text-anchor="end" >200</text>
<line x1="374.2" y1="47.63" x2="376" y2="47.63" stroke="#000" stroke-width="0.9" />
<line x1="374.2" y1="43.8" x2="376" y2="43.8" stroke="#000" stroke-width="0.9" />
<line x1="374.2" y1="39.97" x2="376" y2="39.97" stroke="#000" stroke-width="0.9" />
<line x1="374.2" y1="36.13" x2="376" y2="36.13" stroke="#000" stroke-width="0.9" />
<line x1="374.2" y1="32.3" x2="377.2" y2="32.3" stroke="#000" stroke-width="1" />
<text x="370.3" y="35.7" font-family="'Liberation Serif', serif" font-size="9.1" font-weight="normal" font-style="normal" text-anchor="end" >225</text>
<line x1="425.3" y1="204.9" x2="425.3" y2="201.6" stroke="#000" stroke-width="1" />
<line x1="476.8" y1="204.9" x2="476.8" y2="201.6" stroke="#000" stroke-width="1" />
<line x1="528.3" y1="204.9" x2="528.3" y2="201.6" stroke="#000" stroke-width="1" />
<line x1="579.8" y1="204.9" x2="579.8" y2="201.6" stroke="#000" stroke-width="1" />
<line x1="631.3" y1="204.9" x2="631.3" y2="201.6" stroke="#000" stroke-width="1" />
<line x1="682.8" y1="204.9" x2="682.8" y2="201.6" stroke="#000" stroke-width="1" />
<path d="M399.55,48.32 L451.05,41.81 L502.55,39.28 L554.05,50.47 L605.55,55.84 L657.05,60.67" fill="none" stroke="#000" stroke-width="1.5" stroke-dasharray="5,2" stroke-linejoin="round" />
<circle cx="399.55" cy="48.32" r="2.7" fill="#fff" stroke="#000" stroke-width="1.6"/>
<rect x="399.55" y="47.62" width="2.6" height="1.4" fill="#000"/>
<circle cx="451.05" cy="41.81" r="2.7" fill="#fff" stroke="#000" stroke-width="1.6"/>
<rect x="451.05" y="41.11" width="2.6" height="1.4" fill="#000"/>
<circle cx="502.55" cy="39.28" r="2.7" fill="#fff" stroke="#000" stroke-width="1.6"/>
<rect x="502.55" y="38.58" width="2.6" height="1.4" fill="#000"/>
<circle cx="554.05" cy="50.47" r="2.7" fill="#fff" stroke="#000" stroke-width="1.6"/>
<rect x="554.05" y="49.77" width="2.6" height="1.4" fill="#000"/>
<circle cx="605.55" cy="55.84" r="2.7" fill="#fff" stroke="#000" stroke-width="1.6"/>
<rect x="605.55" y="55.14" width="2.6" height="1.4" fill="#000"/>
<circle cx="657.05" cy="60.67" r="2.7" fill="#fff" stroke="#000" stroke-width="1.6"/>
<rect x="657.05" y="59.97" width="2.6" height="1.4" fill="#000"/>
<text x="528.4" y="230.9" font-family="'Liberation Serif', serif" font-size="10.05" font-weight="bold" font-style="normal" text-anchor="middle" >Cement replacement with glass powder (%)</text>
<text transform="translate(348.8,118.6) rotate(-90)" font-family="'Liberation Serif', serif" font-size="10.05" font-weight="bold" text-anchor="middle">Compressive strength (MPa)</text>
<rect x="404" y="16.7" width="21.4" height="4.6" fill="#000" stroke="#000" stroke-width="0.7"/>
<text x="427" y="23.2" font-family="'Liberation Serif', serif" font-size="9.3" font-weight="normal" font-style="normal" text-anchor="start" >1 day [NC]</text>
<rect x="493.8" y="16.7" width="21.4" height="4.6" fill="url(#h19)" stroke="#000" stroke-width="0.7"/>
<text x="516.8" y="23.2" font-family="'Liberation Serif', serif" font-size="9.3" font-weight="normal" font-style="normal" text-anchor="start" >7 days [NC]</text>
<rect x="583" y="16.8" width="21.4" height="4.6" fill="url(#c20)" stroke="#000" stroke-width="0.7"/>
<text x="606" y="23.3" font-family="'Liberation Serif', serif" font-size="9.3" font-weight="normal" font-style="normal" text-anchor="start" >28 days [NC]</text>
<rect x="404" y="26" width="21.4" height="4.6" fill="#c3c3c3" stroke="#000" stroke-width="0.7"/>
<text x="427" y="31.9" font-family="'Liberation Serif', serif" font-size="9.3" font-weight="normal" font-style="normal" text-anchor="start" >56 days [NC]</text>
<rect x="493.7" y="26.1" width="21.4" height="4.6" fill="url(#b21)" stroke="#000" stroke-width="0.7"/>
<text x="516.7" y="32" font-family="'Liberation Serif', serif" font-size="9.3" font-weight="normal" font-style="normal" text-anchor="start" >91 days [NC]</text>
<path d="M582.7,28.4 L605.5,28.4" fill="none" stroke="#000" stroke-width="1.5" stroke-dasharray="4.2,2.4" stroke-linejoin="round" />
<circle cx="593.9" cy="28.5" r="2.7" fill="#fff" stroke="#000" stroke-width="1.6"/>
<rect x="593.9" y="27.8" width="2.6" height="1.4" fill="#000"/>
<text x="607" y="32.3" font-family="'Liberation Serif', serif" font-size="9.3" font-weight="normal" font-style="normal" text-anchor="start" >2 days (HC)</text>
<rect x="411.94" y="411.53" width="9.45" height="36.57" fill="#000" stroke="#000" stroke-width="0.6"/>
<rect x="421.39" y="366.32" width="9.45" height="81.78" fill="url(#h22)" stroke="#000" stroke-width="0.6"/>
<rect x="430.84" y="331.5" width="9.45" height="116.6" fill="url(#d23)" stroke="#000" stroke-width="0.6"/>
<rect x="440.29" y="326.79" width="9.45" height="121.31" fill="#c3c3c3" stroke="#000" stroke-width="0.6"/>
<rect x="449.74" y="324.62" width="9.45" height="123.48" fill="url(#c24)" stroke="#000" stroke-width="0.6"/>
<text x="435.57" y="459.8" font-family="'Liberation Serif', serif" font-size="9.7" font-weight="normal" font-style="normal" text-anchor="middle" >Reference</text>
<rect x="505.88" y="410.82" width="9.45" height="37.28" fill="#000" stroke="#000" stroke-width="0.6"/>
<rect x="515.33" y="361.89" width="9.45" height="86.21" fill="url(#h25)" stroke="#000" stroke-width="0.6"/>
<rect x="524.77" y="328.13" width="9.45" height="119.97" fill="url(#d26)" stroke="#000" stroke-width="0.6"/>
<rect x="534.23" y="312.12" width="9.45" height="135.98" fill="#c3c3c3" stroke="#000" stroke-width="0.6"/>
<rect x="543.67" y="307.98" width="9.45" height="140.12" fill="url(#c27)" stroke="#000" stroke-width="0.6"/>
<text x="529.5" y="459.8" font-family="'Liberation Serif', serif" font-size="9.7" font-weight="normal" font-style="normal" text-anchor="middle" >50QP/50GP</text>
<rect x="599.81" y="412.23" width="9.45" height="35.87" fill="#000" stroke="#000" stroke-width="0.6"/>
<rect x="609.26" y="369.62" width="9.45" height="78.48" fill="url(#h28)" stroke="#000" stroke-width="0.6"/>
<rect x="618.71" y="327.43" width="9.45" height="120.67" fill="url(#d29)" stroke="#000" stroke-width="0.6"/>
<rect x="628.16" y="310.58" width="9.45" height="137.52" fill="#c3c3c3" stroke="#000" stroke-width="0.6"/>
<rect x="637.61" y="304.61" width="9.45" height="143.49" fill="url(#c30)" stroke="#000" stroke-width="0.6"/>
<text x="623.43" y="459.8" font-family="'Liberation Serif', serif" font-size="9.7" font-weight="normal" font-style="normal" text-anchor="middle" >0QP/100GP</text>
<line x1="388.6" y1="272.4" x2="388.6" y2="448.7" stroke="#000" stroke-width="1.2" />
<line x1="388" y1="448.2" x2="670.6" y2="448.2" stroke="#000" stroke-width="1.3" />
<line x1="388.6" y1="448.1" x2="391.6" y2="448.1" stroke="#000" stroke-width="1" />
<text x="384.9" y="451.6" font-family="'Liberation Serif', serif" font-size="9.4" font-weight="normal" font-style="normal" text-anchor="end" >0</text>
<line x1="388.6" y1="444.59" x2="390.4" y2="444.59" stroke="#000" stroke-width="0.9" />
<line x1="388.6" y1="441.08" x2="390.4" y2="441.08" stroke="#000" stroke-width="0.9" />
<line x1="388.6" y1="437.57" x2="390.4" y2="437.57" stroke="#000" stroke-width="0.9" />
<line x1="388.6" y1="434.06" x2="390.4" y2="434.06" stroke="#000" stroke-width="0.9" />
<line x1="388.6" y1="430.55" x2="391.6" y2="430.55" stroke="#000" stroke-width="1" />
<text x="384.9" y="434.05" font-family="'Liberation Serif', serif" font-size="9.4" font-weight="normal" font-style="normal" text-anchor="end" >25</text>
<line x1="388.6" y1="427.04" x2="390.4" y2="427.04" stroke="#000" stroke-width="0.9" />
<line x1="388.6" y1="423.53" x2="390.4" y2="423.53" stroke="#000" stroke-width="0.9" />
<line x1="388.6" y1="420.02" x2="390.4" y2="420.02" stroke="#000" stroke-width="0.9" />
<line x1="388.6" y1="416.51" x2="390.4" y2="416.51" stroke="#000" stroke-width="0.9" />
<line x1="388.6" y1="413" x2="391.6" y2="413" stroke="#000" stroke-width="1" />
<text x="384.9" y="416.5" font-family="'Liberation Serif', serif" font-size="9.4" font-weight="normal" font-style="normal" text-anchor="end" >50</text>
<line x1="388.6" y1="409.49" x2="390.4" y2="409.49" stroke="#000" stroke-width="0.9" />
<line x1="388.6" y1="405.98" x2="390.4" y2="405.98" stroke="#000" stroke-width="0.9" />
<line x1="388.6" y1="402.47" x2="390.4" y2="402.47" stroke="#000" stroke-width="0.9" />
<line x1="388.6" y1="398.96" x2="390.4" y2="398.96" stroke="#000" stroke-width="0.9" />
<line x1="388.6" y1="395.45" x2="391.6" y2="395.45" stroke="#000" stroke-width="1" />
<text x="384.9" y="398.95" font-family="'Liberation Serif', serif" font-size="9.4" font-weight="normal" font-style="normal" text-anchor="end" >75</text>
<line x1="388.6" y1="391.94" x2="390.4" y2="391.94" stroke="#000" stroke-width="0.9" />
<line x1="388.6" y1="388.43" x2="390.4" y2="388.43" stroke="#000" stroke-width="0.9" />
<line x1="388.6" y1="384.92" x2="390.4" y2="384.92" stroke="#000" stroke-width="0.9" />
<line x1="388.6" y1="381.41" x2="390.4" y2="381.41" stroke="#000" stroke-width="0.9" />
<line x1="388.6" y1="377.9" x2="391.6" y2="377.9" stroke="#000" stroke-width="1" />
<text x="384.9" y="381.4" font-family="'Liberation Serif', serif" font-size="9.4" font-weight="normal" font-style="normal" text-anchor="end" >100</text>
<line x1="388.6" y1="374.39" x2="390.4" y2="374.39" stroke="#000" stroke-width="0.9" />
<line x1="388.6" y1="370.88" x2="390.4" y2="370.88" stroke="#000" stroke-width="0.9" />
<line x1="388.6" y1="367.37" x2="390.4" y2="367.37" stroke="#000" stroke-width="0.9" />
<line x1="388.6" y1="363.86" x2="390.4" y2="363.86" stroke="#000" stroke-width="0.9" />
<line x1="388.6" y1="360.35" x2="391.6" y2="360.35" stroke="#000" stroke-width="1" />
<text x="384.9" y="363.85" font-family="'Liberation Serif', serif" font-size="9.4" font-weight="normal" font-style="normal" text-anchor="end" >125</text>
<line x1="388.6" y1="356.84" x2="390.4" y2="356.84" stroke="#000" stroke-width="0.9" />
<line x1="388.6" y1="353.33" x2="390.4" y2="353.33" stroke="#000" stroke-width="0.9" />
<line x1="388.6" y1="349.82" x2="390.4" y2="349.82" stroke="#000" stroke-width="0.9" />
<line x1="388.6" y1="346.31" x2="390.4" y2="346.31" stroke="#000" stroke-width="0.9" />
<line x1="388.6" y1="342.8" x2="391.6" y2="342.8" stroke="#000" stroke-width="1" />
<text x="384.9" y="346.3" font-family="'Liberation Serif', serif" font-size="9.4" font-weight="normal" font-style="normal" text-anchor="end" >150</text>
<line x1="388.6" y1="339.29" x2="390.4" y2="339.29" stroke="#000" stroke-width="0.9" />
<line x1="388.6" y1="335.78" x2="390.4" y2="335.78" stroke="#000" stroke-width="0.9" />
<line x1="388.6" y1="332.27" x2="390.4" y2="332.27" stroke="#000" stroke-width="0.9" />
<line x1="388.6" y1="328.76" x2="390.4" y2="328.76" stroke="#000" stroke-width="0.9" />
<line x1="388.6" y1="325.25" x2="391.6" y2="325.25" stroke="#000" stroke-width="1" />
<text x="384.9" y="328.75" font-family="'Liberation Serif', serif" font-size="9.4" font-weight="normal" font-style="normal" text-anchor="end" >175</text>
<line x1="388.6" y1="321.74" x2="390.4" y2="321.74" stroke="#000" stroke-width="0.9" />
<line x1="388.6" y1="318.23" x2="390.4" y2="318.23" stroke="#000" stroke-width="0.9" />
<line x1="388.6" y1="314.72" x2="390.4" y2="314.72" stroke="#000" stroke-width="0.9" />
<line x1="388.6" y1="311.21" x2="390.4" y2="311.21" stroke="#000" stroke-width="0.9" />
<line x1="388.6" y1="307.7" x2="391.6" y2="307.7" stroke="#000" stroke-width="1" />
<text x="384.9" y="311.2" font-family="'Liberation Serif', serif" font-size="9.4" font-weight="normal" font-style="normal" text-anchor="end" >200</text>
<line x1="388.6" y1="304.19" x2="390.4" y2="304.19" stroke="#000" stroke-width="0.9" />
<line x1="388.6" y1="300.68" x2="390.4" y2="300.68" stroke="#000" stroke-width="0.9" />
<line x1="388.6" y1="297.17" x2="390.4" y2="297.17" stroke="#000" stroke-width="0.9" />
<line x1="388.6" y1="293.66" x2="390.4" y2="293.66" stroke="#000" stroke-width="0.9" />
<line x1="388.6" y1="290.15" x2="391.6" y2="290.15" stroke="#000" stroke-width="1" />
<text x="384.9" y="293.65" font-family="'Liberation Serif', serif" font-size="9.4" font-weight="normal" font-style="normal" text-anchor="end" >225</text>
<line x1="388.6" y1="286.64" x2="390.4" y2="286.64" stroke="#000" stroke-width="0.9" />
<line x1="388.6" y1="283.13" x2="390.4" y2="283.13" stroke="#000" stroke-width="0.9" />
<line x1="388.6" y1="279.62" x2="390.4" y2="279.62" stroke="#000" stroke-width="0.9" />
<line x1="388.6" y1="276.11" x2="390.4" y2="276.11" stroke="#000" stroke-width="0.9" />
<line x1="388.6" y1="272.6" x2="391.6" y2="272.6" stroke="#000" stroke-width="1" />
<text x="384.9" y="276.1" font-family="'Liberation Serif', serif" font-size="9.4" font-weight="normal" font-style="normal" text-anchor="end" >250</text>
<line x1="482.53" y1="448.2" x2="482.53" y2="445" stroke="#000" stroke-width="1" />
<line x1="576.47" y1="448.2" x2="576.47" y2="445" stroke="#000" stroke-width="1" />
<line x1="670.4" y1="448.2" x2="670.4" y2="445" stroke="#000" stroke-width="1" />
<path d="M435.57,305.31 L529.5,290.01 L623.43,284.39" fill="none" stroke="#000" stroke-width="1.6" stroke-dasharray="5,2.4" stroke-linejoin="round" />
<path d="M435.57,302.01 l3.3,3.3 l-3.3,3.3 l-3.3,-3.3 z" fill="#fff" stroke="#000" stroke-width="2.1"/>
<rect x="435.37" y="304.66" width="2.6" height="1.3" fill="#000"/>
<path d="M529.5,286.71 l3.3,3.3 l-3.3,3.3 l-3.3,-3.3 z" fill="#fff" stroke="#000" stroke-width="2.1"/>
<rect x="529.3" y="289.36" width="2.6" height="1.3" fill="#000"/>
<path d="M623.43,281.09 l3.3,3.3 l-3.3,3.3 l-3.3,-3.3 z" fill="#fff" stroke="#000" stroke-width="2.1"/>
<rect x="623.23" y="283.74" width="2.6" height="1.3" fill="#000"/>
<text x="529" y="477" font-family="'Liberation Serif', serif" font-size="10.7" font-weight="bold" font-style="normal" text-anchor="middle" >Quartz powder replacement by glass powder (%)</text>
<text transform="translate(363.0,360.4) rotate(-90)" font-family="'Liberation Serif', serif" font-size="10.65" font-weight="bold" text-anchor="middle">Compressive strngth (MPa)</text>
<rect x="410" y="249.3" width="22.6" height="4.6" fill="#000" stroke="#000" stroke-width="0.7"/>
<text x="433.6" y="255.9" font-family="'Liberation Serif', serif" font-size="9.8" font-weight="normal" font-style="normal" text-anchor="start" >1 day</text>
<rect x="499.1" y="249.4" width="22.6" height="4.6" fill="url(#h31)" stroke="#000" stroke-width="0.7"/>
<text x="526.2" y="256" font-family="'Liberation Serif', serif" font-size="9.8" font-weight="normal" font-style="normal" text-anchor="start" >7 days [NC]</text>
<rect x="588" y="249.3" width="22.6" height="4.6" fill="url(#d32)" stroke="#000" stroke-width="0.7"/>
<text x="615.4" y="255.9" font-family="'Liberation Serif', serif" font-size="9.8" font-weight="normal" font-style="normal" text-anchor="start" >28 days [NC]</text>
<rect x="410" y="262.7" width="22.6" height="4.6" fill="#c3c3c3" stroke="#000" stroke-width="0.7"/>
<text x="433.4" y="268.8" font-family="'Liberation Serif', serif" font-size="9.8" font-weight="normal" font-style="normal" text-anchor="start" >56 days [NC]</text>
<rect x="499.1" y="262.3" width="22.6" height="4.6" fill="url(#c33)" stroke="#000" stroke-width="0.7"/>
<text x="526.6" y="268.4" font-family="'Liberation Serif', serif" font-size="9.8" font-weight="normal" font-style="normal" text-anchor="start" >91 days [NC]</text>
<path d="M588,264.9 L611.4,264.9" fill="none" stroke="#000" stroke-width="1.5" stroke-dasharray="4.4,2.4" stroke-linejoin="round" />
<path d="M599.4,262.2 l2.7,2.7 l-2.7,2.7 l-2.7,-2.7 z" fill="#fff" stroke="#000" stroke-width="2.1"/>
<rect x="599.2" y="264.25" width="2.6" height="1.3" fill="#000"/>
<text x="615.8" y="268.7" font-family="'Liberation Serif', serif" font-size="9.8" font-weight="normal" font-style="normal" text-anchor="start" >2 days [HC]</text>
<defs><pattern id="h1" patternUnits="userSpaceOnUse" width="3.92" height="3.92" patternTransform="translate(391.9,204.8) rotate(41)"><rect width="3.92" height="3.92" fill="#fff"/><rect width="3.92" height="1.96" fill="#000"/></pattern><pattern id="c2" patternUnits="userSpaceOnUse" width="5.1" height="5.2" patternTransform="translate(397,204.8)"><rect width="5.1" height="5.2" fill="#fff"/><rect width="2.55" height="2.6" fill="#000"/><rect x="2.55" y="2.6" width="2.55" height="2.6" fill="#000"/></pattern><pattern id="b3" patternUnits="userSpaceOnUse" width="5.1" height="5.2" patternTransform="translate(407.2,204.8)"><rect width="5.1" height="5.2" fill="#fff"/><rect width="5.1" height="0.95" fill="#1a1a1a"/><rect y="2.6" width="5.1" height="0.95" fill="#1a1a1a"/><rect x="2.08" y="2.6" width="0.95" height="2.6" fill="#1a1a1a"/></pattern><pattern id="h4" patternUnits="userSpaceOnUse" width="3.92" height="3.92" patternTransform="translate(443.4,204.8) rotate(41)"><rect width="3.92" height="3.92" fill="#fff"/><rect width="3.92" height="1.96" fill="#000"/></pattern><pattern id="c5" patternUnits="userSpaceOnUse" width="5.1" height="5.2" patternTransform="translate(448.5,204.8)"><rect width="5.1" height="5.2" fill="#fff"/><rect width="2.55" height="2.6" fill="#000"/><rect x="2.55" y="2.6" width="2.55" height="2.6" fill="#000"/></pattern><pattern id="b6" patternUnits="userSpaceOnUse" width="5.1" height="5.2" patternTransform="translate(458.7,204.8)"><rect width="5.1" height="5.2" fill="#fff"/><rect width="5.1" height="0.95" fill="#1a1a1a"/><rect y="2.6" width="5.1" height="0.95" fill="#1a1a1a"/><rect x="2.08" y="2.6" width="0.95" height="2.6" fill="#1a1a1a"/></pattern><pattern id="h7" patternUnits="userSpaceOnUse" width="3.92" height="3.92" patternTransform="translate(494.9,204.8) rotate(41)"><rect width="3.92" height="3.92" fill="#fff"/><rect width="3.92" height="1.96" fill="#000"/></pattern><pattern id="c8" patternUnits="userSpaceOnUse" width="5.1" height="5.2" patternTransform="translate(500,204.8)"><rect width="5.1" height="5.2" fill="#fff"/><rect width="2.55" height="2.6" fill="#000"/><rect x="2.55" y="2.6" width="2.55" height="2.6" fill="#000"/></pattern><pattern id="b9" patternUnits="userSpaceOnUse" width="5.1" height="5.2" patternTransform="translate(510.2,204.8)"><rect width="5.1" height="5.2" fill="#fff"/><rect width="5.1" height="0.95" fill="#1a1a1a"/><rect y="2.6" width="5.1" height="0.95" fill="#1a1a1a"/><rect x="2.08" y="2.6" width="0.95" height="2.6" fill="#1a1a1a"/></pattern><pattern id="h10" patternUnits="userSpaceOnUse" width="3.92" height="3.92" patternTransform="translate(546.4,204.8) rotate(41)"><rect width="3.92" height="3.92" fill="#fff"/><rect width="3.92" height="1.96" fill="#000"/></pattern><pattern id="c11" patternUnits="userSpaceOnUse" width="5.1" height="5.2" patternTransform="translate(551.5,204.8)"><rect width="5.1" height="5.2" fill="#fff"/><rect width="2.55" height="2.6" fill="#000"/><rect x="2.55" y="2.6" width="2.55" height="2.6" fill="#000"/></pattern><pattern id="b12" patternUnits="userSpaceOnUse" width="5.1" height="5.2" patternTransform="translate(561.7,204.8)"><rect width="5.1" height="5.2" fill="#fff"/><rect width="5.1" height="0.95" fill="#1a1a1a"/><rect y="2.6" width="5.1" height="0.95" fill="#1a1a1a"/><rect x="2.08" y="2.6" width="0.95" height="2.6" fill="#1a1a1a"/></pattern><pattern id="h13" patternUnits="userSpaceOnUse" width="3.92" height="3.92" patternTransform="translate(597.9,204.8) rotate(41)"><rect width="3.92" height="3.92" fill="#fff"/><rect width="3.92" height="1.96" fill="#000"/></pattern><pattern id="c14" patternUnits="userSpaceOnUse" width="5.1" height="5.2" patternTransform="translate(603,204.8)"><rect width="5.1" height="5.2" fill="#fff"/><rect width="2.55" height="2.6" fill="#000"/><rect x="2.55" y="2.6" width="2.55" height="2.6" fill="#000"/></pattern><pattern id="b15" patternUnits="userSpaceOnUse" width="5.1" height="5.2" patternTransform="translate(613.2,204.8)"><rect width="5.1" height="5.2" fill="#fff"/><rect width="5.1" height="0.95" fill="#1a1a1a"/><rect y="2.6" width="5.1" height="0.95" fill="#1a1a1a"/><rect x="2.08" y="2.6" width="0.95" height="2.6" fill="#1a1a1a"/></pattern><pattern id="h16" patternUnits="userSpaceOnUse" width="3.92" height="3.92" patternTransform="translate(649.4,204.8) rotate(41)"><rect width="3.92" height="3.92" fill="#fff"/><rect width="3.92" height="1.96" fill="#000"/></pattern><pattern id="c17" patternUnits="userSpaceOnUse" width="5.1" height="5.2" patternTransform="translate(654.5,204.8)"><rect width="5.1" height="5.2" fill="#fff"/><rect width="2.55" height="2.6" fill="#000"/><rect x="2.55" y="2.6" width="2.55" height="2.6" fill="#000"/></pattern><pattern id="b18" patternUnits="userSpaceOnUse" width="5.1" height="5.2" patternTransform="translate(664.7,204.8)"><rect width="5.1" height="5.2" fill="#fff"/><rect width="5.1" height="0.95" fill="#1a1a1a"/><rect y="2.6" width="5.1" height="0.95" fill="#1a1a1a"/><rect x="2.08" y="2.6" width="0.95" height="2.6" fill="#1a1a1a"/></pattern><pattern id="h19" patternUnits="userSpaceOnUse" width="3.6" height="3.6" patternTransform="translate(493.8,19) rotate(41)"><rect width="3.6" height="3.6" fill="#fff"/><rect width="3.6" height="1.8" fill="#000"/></pattern><pattern id="c20" patternUnits="userSpaceOnUse" width="5.5" height="4.6" patternTransform="translate(583,16.8)"><rect width="5.5" height="4.6" fill="#fff"/><rect width="2.75" height="2.3" fill="#000"/><rect x="2.75" y="2.3" width="2.75" height="2.3" fill="#000"/></pattern><pattern id="b21" patternUnits="userSpaceOnUse" width="4.3" height="4.6" patternTransform="translate(493.7,26.1)"><rect width="4.3" height="4.6" fill="#fff"/><rect width="4.3" height="0.95" fill="#1a1a1a"/><rect y="2.3" width="4.3" height="0.95" fill="#1a1a1a"/><rect x="1.68" y="2.3" width="0.95" height="2.3" fill="#1a1a1a"/></pattern><pattern id="h22" patternUnits="userSpaceOnUse" width="3.5" height="3.5" patternTransform="translate(421.39,448.1) rotate(-45)"><rect width="3.5" height="3.5" fill="#fff"/><rect width="3.5" height="1.75" fill="#000"/></pattern><pattern id="d23" patternUnits="userSpaceOnUse" width="10" height="10" patternTransform="translate(430.84,448.1)"><rect width="10" height="10" fill="#fff"/><circle cx="3.24" cy="1.51" r="0.82" fill="#000"/><circle cx="6.51" cy="0.72" r="0.82" fill="#000"/><circle cx="6.51" cy="10.72" r="0.82" fill="#000"/><circle cx="5.36" cy="3.66" r="0.82" fill="#000"/><circle cx="0.58" cy="5.07" r="0.82" fill="#000"/><circle cx="10.58" cy="5.07" r="0.82" fill="#000"/><circle cx="0.7" cy="0.91" r="0.82" fill="#000"/><circle cx="0.7" cy="10.91" r="0.82" fill="#000"/><circle cx="10.7" cy="0.91" r="0.82" fill="#000"/><circle cx="10.7" cy="10.91" r="0.82" fill="#000"/><circle cx="4.25" cy="8.27" r="0.82" fill="#000"/><circle cx="8.58" cy="2.9" r="0.82" fill="#000"/><circle cx="3.14" cy="5.86" r="0.82" fill="#000"/><circle cx="7.94" cy="6.99" r="0.82" fill="#000"/><circle cx="8.4" cy="-0.55" r="0.82" fill="#000"/><circle cx="8.4" cy="9.45" r="0.82" fill="#000"/><circle cx="0.61" cy="7.01" r="0.82" fill="#000"/><circle cx="10.61" cy="7.01" r="0.82" fill="#000"/><circle cx="5.15" cy="6.18" r="0.82" fill="#000"/><circle cx="2.52" cy="3.47" r="0.82" fill="#000"/><circle cx="8.4" cy="4.79" r="0.82" fill="#000"/><circle cx="1.31" cy="-0.9" r="0.82" fill="#000"/><circle cx="1.31" cy="9.1" r="0.82" fill="#000"/><circle cx="6.34" cy="8.02" r="0.82" fill="#000"/><circle cx="0.5" cy="3" r="0.82" fill="#000"/><circle cx="10.5" cy="3" r="0.82" fill="#000"/><circle cx="4.63" cy="0.14" r="0.82" fill="#000"/><circle cx="4.63" cy="10.14" r="0.82" fill="#000"/></pattern><pattern id="c24" patternUnits="userSpaceOnUse" width="5.4" height="5.4" patternTransform="translate(450.04,448.1)"><rect width="5.4" height="5.4" fill="#fff"/><rect width="2.7" height="2.7" fill="#000"/><rect x="2.7" y="2.7" width="2.7" height="2.7" fill="#000"/></pattern><pattern id="h25" patternUnits="userSpaceOnUse" width="3.5" height="3.5" patternTransform="translate(515.33,448.1) rotate(-45)"><rect width="3.5" height="3.5" fill="#fff"/><rect width="3.5" height="1.75" fill="#000"/></pattern><pattern id="d26" patternUnits="userSpaceOnUse" width="10" height="10" patternTransform="translate(524.77,448.1)"><rect width="10" height="10" fill="#fff"/><circle cx="3.24" cy="1.51" r="0.82" fill="#000"/><circle cx="6.51" cy="0.72" r="0.82" fill="#000"/><circle cx="6.51" cy="10.72" r="0.82" fill="#000"/><circle cx="5.36" cy="3.66" r="0.82" fill="#000"/><circle cx="0.58" cy="5.07" r="0.82" fill="#000"/><circle cx="10.58" cy="5.07" r="0.82" fill="#000"/><circle cx="0.7" cy="0.91" r="0.82" fill="#000"/><circle cx="0.7" cy="10.91" r="0.82" fill="#000"/><circle cx="10.7" cy="0.91" r="0.82" fill="#000"/><circle cx="10.7" cy="10.91" r="0.82" fill="#000"/><circle cx="4.25" cy="8.27" r="0.82" fill="#000"/><circle cx="8.58" cy="2.9" r="0.82" fill="#000"/><circle cx="3.14" cy="5.86" r="0.82" fill="#000"/><circle cx="7.94" cy="6.99" r="0.82" fill="#000"/><circle cx="8.4" cy="-0.55" r="0.82" fill="#000"/><circle cx="8.4" cy="9.45" r="0.82" fill="#000"/><circle cx="0.61" cy="7.01" r="0.82" fill="#000"/><circle cx="10.61" cy="7.01" r="0.82" fill="#000"/><circle cx="5.15" cy="6.18" r="0.82" fill="#000"/><circle cx="2.52" cy="3.47" r="0.82" fill="#000"/><circle cx="8.4" cy="4.79" r="0.82" fill="#000"/><circle cx="1.31" cy="-0.9" r="0.82" fill="#000"/><circle cx="1.31" cy="9.1" r="0.82" fill="#000"/><circle cx="6.34" cy="8.02" r="0.82" fill="#000"/><circle cx="0.5" cy="3" r="0.82" fill="#000"/><circle cx="10.5" cy="3" r="0.82" fill="#000"/><circle cx="4.63" cy="0.14" r="0.82" fill="#000"/><circle cx="4.63" cy="10.14" r="0.82" fill="#000"/></pattern><pattern id="c27" patternUnits="userSpaceOnUse" width="5.4" height="5.4" patternTransform="translate(543.97,448.1)"><rect width="5.4" height="5.4" fill="#fff"/><rect width="2.7" height="2.7" fill="#000"/><rect x="2.7" y="2.7" width="2.7" height="2.7" fill="#000"/></pattern><pattern id="h28" patternUnits="userSpaceOnUse" width="3.5" height="3.5" patternTransform="translate(609.26,448.1) rotate(-45)"><rect width="3.5" height="3.5" fill="#fff"/><rect width="3.5" height="1.75" fill="#000"/></pattern><pattern id="d29" patternUnits="userSpaceOnUse" width="10" height="10" patternTransform="translate(618.71,448.1)"><rect width="10" height="10" fill="#fff"/><circle cx="3.24" cy="1.51" r="0.82" fill="#000"/><circle cx="6.51" cy="0.72" r="0.82" fill="#000"/><circle cx="6.51" cy="10.72" r="0.82" fill="#000"/><circle cx="5.36" cy="3.66" r="0.82" fill="#000"/><circle cx="0.58" cy="5.07" r="0.82" fill="#000"/><circle cx="10.58" cy="5.07" r="0.82" fill="#000"/><circle cx="0.7" cy="0.91" r="0.82" fill="#000"/><circle cx="0.7" cy="10.91" r="0.82" fill="#000"/><circle cx="10.7" cy="0.91" r="0.82" fill="#000"/><circle cx="10.7" cy="10.91" r="0.82" fill="#000"/><circle cx="4.25" cy="8.27" r="0.82" fill="#000"/><circle cx="8.58" cy="2.9" r="0.82" fill="#000"/><circle cx="3.14" cy="5.86" r="0.82" fill="#000"/><circle cx="7.94" cy="6.99" r="0.82" fill="#000"/><circle cx="8.4" cy="-0.55" r="0.82" fill="#000"/><circle cx="8.4" cy="9.45" r="0.82" fill="#000"/><circle cx="0.61" cy="7.01" r="0.82" fill="#000"/><circle cx="10.61" cy="7.01" r="0.82" fill="#000"/><circle cx="5.15" cy="6.18" r="0.82" fill="#000"/><circle cx="2.52" cy="3.47" r="0.82" fill="#000"/><circle cx="8.4" cy="4.79" r="0.82" fill="#000"/><circle cx="1.31" cy="-0.9" r="0.82" fill="#000"/><circle cx="1.31" cy="9.1" r="0.82" fill="#000"/><circle cx="6.34" cy="8.02" r="0.82" fill="#000"/><circle cx="0.5" cy="3" r="0.82" fill="#000"/><circle cx="10.5" cy="3" r="0.82" fill="#000"/><circle cx="4.63" cy="0.14" r="0.82" fill="#000"/><circle cx="4.63" cy="10.14" r="0.82" fill="#000"/></pattern><pattern id="c30" patternUnits="userSpaceOnUse" width="5.4" height="5.4" patternTransform="translate(637.91,448.1)"><rect width="5.4" height="5.4" fill="#fff"/><rect width="2.7" height="2.7" fill="#000"/><rect x="2.7" y="2.7" width="2.7" height="2.7" fill="#000"/></pattern><pattern id="h31" patternUnits="userSpaceOnUse" width="3.5" height="3.5" patternTransform="translate(499.1,251.7) rotate(-45)"><rect width="3.5" height="3.5" fill="#fff"/><rect width="3.5" height="1.75" fill="#000"/></pattern><pattern id="d32" patternUnits="userSpaceOnUse" width="10" height="10" patternTransform="translate(588,251.6)"><rect width="10" height="10" fill="#fff"/><circle cx="3.24" cy="1.51" r="0.82" fill="#000"/><circle cx="6.51" cy="0.72" r="0.82" fill="#000"/><circle cx="6.51" cy="10.72" r="0.82" fill="#000"/><circle cx="5.36" cy="3.66" r="0.82" fill="#000"/><circle cx="0.58" cy="5.07" r="0.82" fill="#000"/><circle cx="10.58" cy="5.07" r="0.82" fill="#000"/><circle cx="0.7" cy="0.91" r="0.82" fill="#000"/><circle cx="0.7" cy="10.91" r="0.82" fill="#000"/><circle cx="10.7" cy="0.91" r="0.82" fill="#000"/><circle cx="10.7" cy="10.91" r="0.82" fill="#000"/><circle cx="4.25" cy="8.27" r="0.82" fill="#000"/><circle cx="8.58" cy="2.9" r="0.82" fill="#000"/><circle cx="3.14" cy="5.86" r="0.82" fill="#000"/><circle cx="7.94" cy="6.99" r="0.82" fill="#000"/><circle cx="8.4" cy="-0.55" r="0.82" fill="#000"/><circle cx="8.4" cy="9.45" r="0.82" fill="#000"/><circle cx="0.61" cy="7.01" r="0.82" fill="#000"/><circle cx="10.61" cy="7.01" r="0.82" fill="#000"/><circle cx="5.15" cy="6.18" r="0.82" fill="#000"/><circle cx="2.52" cy="3.47" r="0.82" fill="#000"/><circle cx="8.4" cy="4.79" r="0.82" fill="#000"/><circle cx="1.31" cy="-0.9" r="0.82" fill="#000"/><circle cx="1.31" cy="9.1" r="0.82" fill="#000"/><circle cx="6.34" cy="8.02" r="0.82" fill="#000"/><circle cx="0.5" cy="3" r="0.82" fill="#000"/><circle cx="10.5" cy="3" r="0.82" fill="#000"/><circle cx="4.63" cy="0.14" r="0.82" fill="#000"/><circle cx="4.63" cy="10.14" r="0.82" fill="#000"/></pattern><pattern id="c33" patternUnits="userSpaceOnUse" width="5.2" height="4.6" patternTransform="translate(499.1,262.3)"><rect width="5.2" height="4.6" fill="#fff"/><rect width="2.6" height="2.3" fill="#000"/><rect x="2.6" y="2.3" width="2.6" height="2.3" fill="#000"/></pattern></defs>
</svg>
</body></html>
